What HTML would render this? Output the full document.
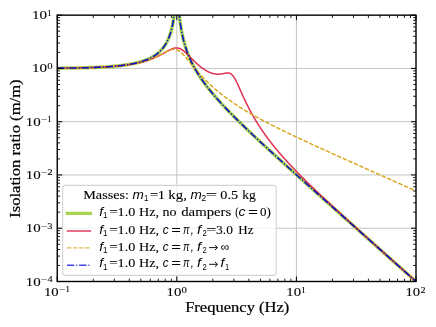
<!DOCTYPE html>
<html><head><meta charset="utf-8"><title>plot</title>
<style>
html,body{margin:0;padding:0;background:#fff;}
svg{display:block;}
text{font-family:"Liberation Serif",serif;fill:#000;stroke:#000;stroke-width:0.1px;}
.i{font-family:"Liberation Sans",sans-serif;font-style:italic;stroke-width:0;}
.s{font-family:"Liberation Sans",sans-serif;stroke-width:0;}
</style></head><body>
<svg width="436" height="327" viewBox="0 0 436 327">
<rect width="436" height="327" fill="#fff"/>
<defs><clipPath id="cp"><rect x="57.25" y="15.15" width="358.75" height="266.35"/></clipPath></defs>

<line x1="176.83" x2="176.83" y1="15.15" y2="281.5" stroke="#c4c4c4" stroke-width="1"/>
<line x1="296.42" x2="296.42" y1="15.15" y2="281.5" stroke="#c4c4c4" stroke-width="1"/>
<line x1="57.25" x2="416.0" y1="68.42" y2="68.42" stroke="#c4c4c4" stroke-width="1"/>
<line x1="57.25" x2="416.0" y1="121.69" y2="121.69" stroke="#c4c4c4" stroke-width="1"/>
<line x1="57.25" x2="416.0" y1="174.96" y2="174.96" stroke="#c4c4c4" stroke-width="1"/>
<line x1="57.25" x2="416.0" y1="228.23" y2="228.23" stroke="#c4c4c4" stroke-width="1"/>
<g clip-path="url(#cp)" fill="none" stroke-linejoin="round">
<path d="M57.25,68.19 L57.49,68.19 L57.73,68.18 L57.97,68.18 L58.21,68.18 L58.45,68.18 L58.69,68.17 L58.93,68.17 L59.16,68.17 L59.40,68.17 L59.64,68.16 L59.88,68.16 L60.12,68.16 L60.36,68.16 L60.60,68.16 L60.84,68.15 L61.08,68.15 L61.32,68.15 L61.56,68.15 L61.80,68.14 L62.04,68.14 L62.28,68.14 L62.52,68.13 L62.75,68.13 L62.99,68.13 L63.23,68.13 L63.47,68.12 L63.71,68.12 L63.95,68.12 L64.19,68.12 L64.43,68.11 L64.67,68.11 L64.91,68.11 L65.15,68.10 L65.39,68.10 L65.63,68.10 L65.87,68.10 L66.11,68.09 L66.34,68.09 L66.58,68.09 L66.82,68.08 L67.06,68.08 L67.30,68.08 L67.54,68.07 L67.78,68.07 L68.02,68.07 L68.26,68.06 L68.50,68.06 L68.74,68.06 L68.98,68.05 L69.22,68.05 L69.46,68.05 L69.69,68.04 L69.93,68.04 L70.17,68.04 L70.41,68.03 L70.65,68.03 L70.89,68.03 L71.13,68.02 L71.37,68.02 L71.61,68.01 L71.85,68.01 L72.09,68.01 L72.33,68.00 L72.57,68.00 L72.81,67.99 L73.05,67.99 L73.28,67.99 L73.52,67.98 L73.76,67.98 L74.00,67.97 L74.24,67.97 L74.48,67.97 L74.72,67.96 L74.96,67.96 L75.20,67.95 L75.44,67.95 L75.68,67.94 L75.92,67.94 L76.16,67.94 L76.40,67.93 L76.64,67.93 L76.87,67.92 L77.11,67.92 L77.35,67.91 L77.59,67.91 L77.83,67.90 L78.07,67.90 L78.31,67.89 L78.55,67.89 L78.79,67.88 L79.03,67.88 L79.27,67.87 L79.51,67.87 L79.75,67.86 L79.99,67.86 L80.23,67.85 L80.46,67.85 L80.70,67.84 L80.94,67.84 L81.18,67.83 L81.42,67.83 L81.66,67.82 L81.90,67.81 L82.14,67.81 L82.38,67.80 L82.62,67.80 L82.86,67.79 L83.10,67.79 L83.34,67.78 L83.58,67.77 L83.82,67.77 L84.05,67.76 L84.29,67.76 L84.53,67.75 L84.77,67.74 L85.01,67.74 L85.25,67.73 L85.49,67.72 L85.73,67.72 L85.97,67.71 L86.21,67.70 L86.45,67.70 L86.69,67.69 L86.93,67.68 L87.17,67.68 L87.41,67.67 L87.64,67.66 L87.88,67.65 L88.12,67.65 L88.36,67.64 L88.60,67.63 L88.84,67.63 L89.08,67.62 L89.32,67.61 L89.56,67.60 L89.80,67.60 L90.04,67.59 L90.28,67.58 L90.52,67.57 L90.76,67.56 L90.99,67.56 L91.23,67.55 L91.47,67.54 L91.71,67.53 L91.95,67.52 L92.19,67.51 L92.43,67.51 L92.67,67.50 L92.91,67.49 L93.15,67.48 L93.39,67.47 L93.63,67.46 L93.87,67.45 L94.11,67.44 L94.35,67.43 L94.58,67.42 L94.82,67.42 L95.06,67.41 L95.30,67.40 L95.54,67.39 L95.78,67.38 L96.02,67.37 L96.26,67.36 L96.50,67.35 L96.74,67.34 L96.98,67.33 L97.22,67.32 L97.46,67.31 L97.70,67.29 L97.94,67.28 L98.17,67.27 L98.41,67.26 L98.65,67.25 L98.89,67.24 L99.13,67.23 L99.37,67.22 L99.61,67.21 L99.85,67.19 L100.09,67.18 L100.33,67.17 L100.57,67.16 L100.81,67.15 L101.05,67.14 L101.29,67.12 L101.53,67.11 L101.76,67.10 L102.00,67.09 L102.24,67.07 L102.48,67.06 L102.72,67.05 L102.96,67.03 L103.20,67.02 L103.44,67.01 L103.68,66.99 L103.92,66.98 L104.16,66.97 L104.40,66.95 L104.64,66.94 L104.88,66.92 L105.12,66.91 L105.35,66.90 L105.59,66.88 L105.83,66.87 L106.07,66.85 L106.31,66.84 L106.55,66.82 L106.79,66.81 L107.03,66.79 L107.27,66.77 L107.51,66.76 L107.75,66.74 L107.99,66.73 L108.23,66.71 L108.47,66.69 L108.71,66.68 L108.94,66.66 L109.18,66.64 L109.42,66.63 L109.66,66.61 L109.90,66.59 L110.14,66.57 L110.38,66.56 L110.62,66.54 L110.86,66.52 L111.10,66.50 L111.34,66.48 L111.58,66.47 L111.82,66.45 L112.06,66.43 L112.30,66.41 L112.53,66.39 L112.77,66.37 L113.01,66.35 L113.25,66.33 L113.49,66.31 L113.73,66.29 L113.97,66.27 L114.21,66.25 L114.45,66.23 L114.69,66.20 L114.93,66.18 L115.17,66.16 L115.41,66.14 L115.65,66.12 L115.88,66.09 L116.12,66.07 L116.36,66.05 L116.60,66.03 L116.84,66.00 L117.08,65.98 L117.32,65.95 L117.56,65.93 L117.80,65.91 L118.04,65.88 L118.28,65.86 L118.52,65.83 L118.76,65.81 L119.00,65.78 L119.24,65.75 L119.47,65.73 L119.71,65.70 L119.95,65.68 L120.19,65.65 L120.43,65.62 L120.67,65.59 L120.91,65.57 L121.15,65.54 L121.39,65.51 L121.63,65.48 L121.87,65.45 L122.11,65.42 L122.35,65.39 L122.59,65.36 L122.83,65.33 L123.06,65.30 L123.30,65.27 L123.54,65.24 L123.78,65.21 L124.02,65.18 L124.26,65.14 L124.50,65.11 L124.74,65.08 L124.98,65.04 L125.22,65.01 L125.46,64.98 L125.70,64.94 L125.94,64.91 L126.18,64.87 L126.42,64.84 L126.65,64.80 L126.89,64.76 L127.13,64.73 L127.37,64.69 L127.61,64.65 L127.85,64.62 L128.09,64.58 L128.33,64.54 L128.57,64.50 L128.81,64.46 L129.05,64.42 L129.29,64.38 L129.53,64.34 L129.77,64.30 L130.01,64.26 L130.24,64.21 L130.48,64.17 L130.72,64.13 L130.96,64.08 L131.20,64.04 L131.44,63.99 L131.68,63.95 L131.92,63.90 L132.16,63.86 L132.40,63.81 L132.64,63.76 L132.88,63.72 L133.12,63.67 L133.36,63.62 L133.60,63.57 L133.83,63.52 L134.07,63.47 L134.31,63.42 L134.55,63.37 L134.79,63.31 L135.03,63.26 L135.27,63.21 L135.51,63.15 L135.75,63.10 L135.99,63.04 L136.23,62.99 L136.47,62.93 L136.71,62.87 L136.95,62.81 L137.18,62.75 L137.42,62.69 L137.66,62.63 L137.90,62.57 L138.14,62.51 L138.38,62.45 L138.62,62.39 L138.86,62.32 L139.10,62.26 L139.34,62.19 L139.58,62.13 L139.82,62.06 L140.06,61.99 L140.30,61.92 L140.54,61.85 L140.77,61.78 L141.01,61.71 L141.25,61.64 L141.49,61.57 L141.73,61.49 L141.97,61.42 L142.21,61.34 L142.45,61.26 L142.69,61.19 L142.93,61.11 L143.17,61.03 L143.41,60.95 L143.65,60.87 L143.89,60.78 L144.13,60.70 L144.36,60.61 L144.60,60.53 L144.84,60.44 L145.08,60.35 L145.32,60.26 L145.56,60.17 L145.80,60.08 L146.04,59.99 L146.28,59.89 L146.52,59.80 L146.76,59.70 L147.00,59.60 L147.24,59.50 L147.48,59.40 L147.72,59.30 L147.95,59.19 L148.19,59.09 L148.43,58.98 L148.67,58.87 L148.91,58.76 L149.15,58.65 L149.39,58.54 L149.63,58.43 L149.87,58.31 L150.11,58.19 L150.35,58.07 L150.59,57.95 L150.83,57.83 L151.07,57.70 L151.31,57.58 L151.54,57.45 L151.78,57.32 L152.02,57.19 L152.26,57.05 L152.50,56.92 L152.74,56.78 L152.98,56.64 L153.22,56.49 L153.46,56.35 L153.70,56.20 L153.94,56.05 L154.18,55.90 L154.42,55.75 L154.66,55.59 L154.90,55.43 L155.13,55.27 L155.37,55.10 L155.61,54.94 L155.85,54.77 L156.09,54.59 L156.33,54.42 L156.57,54.24 L156.81,54.06 L157.05,53.87 L157.29,53.68 L157.53,53.49 L157.77,53.30 L158.01,53.10 L158.25,52.90 L158.48,52.69 L158.72,52.48 L158.96,52.27 L159.20,52.05 L159.44,51.83 L159.68,51.60 L159.92,51.37 L160.16,51.14 L160.40,50.90 L160.64,50.66 L160.88,50.41 L161.12,50.15 L161.36,49.89 L161.60,49.63 L161.84,49.36 L162.07,49.08 L162.31,48.80 L162.55,48.52 L162.79,48.22 L163.03,47.92 L163.27,47.61 L163.51,47.30 L163.75,46.98 L163.99,46.65 L164.23,46.31 L164.47,45.97 L164.71,45.61 L164.95,45.25 L165.19,44.88 L165.43,44.49 L165.66,44.10 L165.90,43.70 L166.14,43.29 L166.38,42.86 L166.62,42.43 L166.86,41.98 L167.10,41.52 L167.34,41.04 L167.58,40.55 L167.82,40.04 L168.06,39.52 L168.30,38.98 L168.54,38.43 L168.78,37.85 L169.02,37.25 L169.25,36.64 L169.49,35.99 L169.73,35.33 L169.97,34.64 L170.21,33.92 L170.45,33.17 L170.69,32.39 L170.93,31.57 L171.17,30.72 L171.41,29.82 L171.65,28.88 L171.89,27.89 L172.13,26.84 L172.37,25.74 L172.61,24.57 L172.84,23.33 L173.08,22.00 L173.32,20.58 L173.56,19.05 L173.80,17.39 L174.04,15.60 L174.28,13.63 L174.52,11.46 L174.76,9.03 L175.00,6.30 L175.24,3.17 L175.48,-0.48 L175.72,-4.87 L175.96,-10.34 L176.20,-17.60 L176.43,-28.37 L176.67,-49.46 L176.91,-60.00 L177.15,-33.21 L177.39,-20.16 L177.63,-11.80 L177.87,-5.62 L178.11,-0.71 L178.35,3.37 L178.59,6.87 L178.83,9.94 L179.07,12.67 L179.31,15.13 L179.55,17.38 L179.79,19.44 L180.02,21.35 L180.26,23.14 L180.50,24.81 L180.74,26.38 L180.98,27.86 L181.22,29.27 L181.46,30.61 L181.70,31.88 L181.94,33.10 L182.18,34.27 L182.42,35.40 L182.66,36.48 L182.90,37.52 L183.14,38.53 L183.37,39.50 L183.61,40.44 L183.85,41.36 L184.09,42.24 L184.33,43.11 L184.57,43.94 L184.81,44.76 L185.05,45.56 L185.29,46.33 L185.53,47.09 L185.77,47.83 L186.01,48.56 L186.25,49.27 L186.49,49.96 L186.73,50.64 L186.96,51.31 L187.20,51.96 L187.44,52.60 L187.68,53.23 L187.92,53.85 L188.16,54.46 L188.40,55.06 L188.64,55.64 L188.88,56.22 L189.12,56.79 L189.36,57.35 L189.60,57.91 L189.84,58.45 L190.08,58.99 L190.32,59.52 L190.55,60.04 L190.79,60.56 L191.03,61.07 L191.27,61.57 L191.51,62.07 L191.75,62.56 L191.99,63.04 L192.23,63.52 L192.47,64.00 L192.71,64.47 L192.95,64.93 L193.19,65.39 L193.43,65.84 L193.67,66.29 L193.91,66.74 L194.14,67.18 L194.38,67.61 L194.62,68.05 L194.86,68.47 L195.10,68.90 L195.34,69.32 L195.58,69.73 L195.82,70.15 L196.06,70.56 L196.30,70.96 L196.54,71.37 L196.78,71.76 L197.02,72.16 L197.26,72.55 L197.50,72.94 L197.73,73.33 L197.97,73.72 L198.21,74.10 L198.45,74.48 L198.69,74.85 L198.93,75.22 L199.17,75.60 L199.41,75.96 L199.65,76.33 L199.89,76.69 L200.13,77.05 L200.37,77.41 L200.61,77.77 L200.85,78.12 L201.09,78.48 L201.32,78.83 L201.56,79.18 L201.80,79.52 L202.04,79.87 L202.28,80.21 L202.52,80.55 L202.76,80.89 L203.00,81.22 L203.24,81.56 L203.48,81.89 L203.72,82.22 L203.96,82.55 L204.20,82.88 L204.44,83.21 L204.67,83.53 L204.91,83.86 L205.15,84.18 L205.39,84.50 L205.63,84.82 L205.87,85.13 L206.11,85.45 L206.35,85.77 L206.59,86.08 L206.83,86.39 L207.07,86.70 L207.31,87.01 L207.55,87.32 L207.79,87.63 L208.03,87.93 L208.26,88.24 L208.50,88.54 L208.74,88.84 L208.98,89.14 L209.22,89.44 L209.46,89.74 L209.70,90.04 L209.94,90.33 L210.18,90.63 L210.42,90.92 L210.66,91.22 L210.90,91.51 L211.14,91.80 L211.38,92.09 L211.62,92.38 L211.85,92.67 L212.09,92.96 L212.33,93.24 L212.57,93.53 L212.81,93.81 L213.05,94.10 L213.29,94.38 L213.53,94.66 L213.77,94.94 L214.01,95.22 L214.25,95.50 L214.49,95.78 L214.73,96.06 L214.97,96.34 L215.21,96.62 L215.44,96.89 L215.68,97.17 L215.92,97.44 L216.16,97.71 L216.40,97.99 L216.64,98.26 L216.88,98.53 L217.12,98.80 L217.36,99.07 L217.60,99.34 L217.84,99.61 L218.08,99.88 L218.32,100.15 L218.56,100.41 L218.80,100.68 L219.03,100.95 L219.27,101.21 L219.51,101.48 L219.75,101.74 L219.99,102.00 L220.23,102.27 L220.47,102.53 L220.71,102.79 L220.95,103.05 L221.19,103.31 L221.43,103.57 L221.67,103.83 L221.91,104.09 L222.15,104.35 L222.39,104.61 L222.62,104.87 L222.86,105.12 L223.10,105.38 L223.34,105.63 L223.58,105.89 L223.82,106.15 L224.06,106.40 L224.30,106.65 L224.54,106.91 L224.78,107.16 L225.02,107.42 L225.26,107.67 L225.50,107.92 L225.74,108.17 L225.97,108.42 L226.21,108.67 L226.45,108.92 L226.69,109.17 L226.93,109.42 L227.17,109.67 L227.41,109.92 L227.65,110.17 L227.89,110.42 L228.13,110.67 L228.37,110.91 L228.61,111.16 L228.85,111.41 L229.09,111.65 L229.33,111.90 L229.56,112.15 L229.80,112.39 L230.04,112.64 L230.28,112.88 L230.52,113.12 L230.76,113.37 L231.00,113.61 L231.24,113.85 L231.48,114.10 L231.72,114.34 L231.96,114.58 L232.20,114.83 L232.44,115.07 L232.68,115.31 L232.92,115.55 L233.15,115.79 L233.39,116.03 L233.63,116.27 L233.87,116.51 L234.11,116.75 L234.35,116.99 L234.59,117.23 L234.83,117.47 L235.07,117.71 L235.31,117.95 L235.55,118.18 L235.79,118.42 L236.03,118.66 L236.27,118.90 L236.51,119.13 L236.74,119.37 L236.98,119.61 L237.22,119.84 L237.46,120.08 L237.70,120.32 L237.94,120.55 L238.18,120.79 L238.42,121.02 L238.66,121.26 L238.90,121.49 L239.14,121.73 L239.38,121.96 L239.62,122.20 L239.86,122.43 L240.10,122.66 L240.33,122.90 L240.57,123.13 L240.81,123.36 L241.05,123.60 L241.29,123.83 L241.53,124.06 L241.77,124.29 L242.01,124.53 L242.25,124.76 L242.49,124.99 L242.73,125.22 L242.97,125.45 L243.21,125.68 L243.45,125.92 L243.69,126.15 L243.92,126.38 L244.16,126.61 L244.40,126.84 L244.64,127.07 L244.88,127.30 L245.12,127.53 L245.36,127.76 L245.60,127.99 L245.84,128.22 L246.08,128.45 L246.32,128.68 L246.56,128.90 L246.80,129.13 L247.04,129.36 L247.28,129.59 L247.51,129.82 L247.75,130.05 L247.99,130.27 L248.23,130.50 L248.47,130.73 L248.71,130.96 L248.95,131.18 L249.19,131.41 L249.43,131.64 L249.67,131.87 L249.91,132.09 L250.15,132.32 L250.39,132.55 L250.63,132.77 L250.86,133.00 L251.10,133.23 L251.34,133.45 L251.58,133.68 L251.82,133.90 L252.06,134.13 L252.30,134.36 L252.54,134.58 L252.78,134.81 L253.02,135.03 L253.26,135.26 L253.50,135.48 L253.74,135.71 L253.98,135.93 L254.22,136.16 L254.45,136.38 L254.69,136.60 L254.93,136.83 L255.17,137.05 L255.41,137.28 L255.65,137.50 L255.89,137.73 L256.13,137.95 L256.37,138.17 L256.61,138.40 L256.85,138.62 L257.09,138.84 L257.33,139.07 L257.57,139.29 L257.81,139.51 L258.04,139.74 L258.28,139.96 L258.52,140.18 L258.76,140.41 L259.00,140.63 L259.24,140.85 L259.48,141.07 L259.72,141.30 L259.96,141.52 L260.20,141.74 L260.44,141.96 L260.68,142.18 L260.92,142.41 L261.16,142.63 L261.40,142.85 L261.63,143.07 L261.87,143.29 L262.11,143.51 L262.35,143.74 L262.59,143.96 L262.83,144.18 L263.07,144.40 L263.31,144.62 L263.55,144.84 L263.79,145.06 L264.03,145.28 L264.27,145.51 L264.51,145.73 L264.75,145.95 L264.99,146.17 L265.22,146.39 L265.46,146.61 L265.70,146.83 L265.94,147.05 L266.18,147.27 L266.42,147.49 L266.66,147.71 L266.90,147.93 L267.14,148.15 L267.38,148.37 L267.62,148.59 L267.86,148.81 L268.10,149.03 L268.34,149.25 L268.58,149.47 L268.81,149.69 L269.05,149.91 L269.29,150.13 L269.53,150.35 L269.77,150.57 L270.01,150.79 L270.25,151.01 L270.49,151.22 L270.73,151.44 L270.97,151.66 L271.21,151.88 L271.45,152.10 L271.69,152.32 L271.93,152.54 L272.16,152.76 L272.40,152.98 L272.64,153.19 L272.88,153.41 L273.12,153.63 L273.36,153.85 L273.60,154.07 L273.84,154.29 L274.08,154.51 L274.32,154.72 L274.56,154.94 L274.80,155.16 L275.04,155.38 L275.28,155.60 L275.52,155.82 L275.75,156.03 L275.99,156.25 L276.23,156.47 L276.47,156.69 L276.71,156.91 L276.95,157.12 L277.19,157.34 L277.43,157.56 L277.67,157.78 L277.91,157.99 L278.15,158.21 L278.39,158.43 L278.63,158.65 L278.87,158.86 L279.11,159.08 L279.34,159.30 L279.58,159.52 L279.82,159.73 L280.06,159.95 L280.30,160.17 L280.54,160.39 L280.78,160.60 L281.02,160.82 L281.26,161.04 L281.50,161.25 L281.74,161.47 L281.98,161.69 L282.22,161.91 L282.46,162.12 L282.70,162.34 L282.93,162.56 L283.17,162.77 L283.41,162.99 L283.65,163.21 L283.89,163.42 L284.13,163.64 L284.37,163.86 L284.61,164.07 L284.85,164.29 L285.09,164.51 L285.33,164.72 L285.57,164.94 L285.81,165.16 L286.05,165.37 L286.29,165.59 L286.52,165.81 L286.76,166.02 L287.00,166.24 L287.24,166.45 L287.48,166.67 L287.72,166.89 L287.96,167.10 L288.20,167.32 L288.44,167.54 L288.68,167.75 L288.92,167.97 L289.16,168.18 L289.40,168.40 L289.64,168.62 L289.88,168.83 L290.11,169.05 L290.35,169.26 L290.59,169.48 L290.83,169.70 L291.07,169.91 L291.31,170.13 L291.55,170.34 L291.79,170.56 L292.03,170.78 L292.27,170.99 L292.51,171.21 L292.75,171.42 L292.99,171.64 L293.23,171.85 L293.46,172.07 L293.70,172.29 L293.94,172.50 L294.18,172.72 L294.42,172.93 L294.66,173.15 L294.90,173.36 L295.14,173.58 L295.38,173.79 L295.62,174.01 L295.86,174.22 L296.10,174.44 L296.34,174.66 L296.58,174.87 L296.82,175.09 L297.05,175.30 L297.29,175.52 L297.53,175.73 L297.77,175.95 L298.01,176.16 L298.25,176.38 L298.49,176.59 L298.73,176.81 L298.97,177.02 L299.21,177.24 L299.45,177.45 L299.69,177.67 L299.93,177.88 L300.17,178.10 L300.41,178.31 L300.64,178.53 L300.88,178.74 L301.12,178.96 L301.36,179.17 L301.60,179.39 L301.84,179.60 L302.08,179.82 L302.32,180.03 L302.56,180.25 L302.80,180.46 L303.04,180.68 L303.28,180.89 L303.52,181.11 L303.76,181.32 L304.00,181.54 L304.23,181.75 L304.47,181.97 L304.71,182.18 L304.95,182.40 L305.19,182.61 L305.43,182.83 L305.67,183.04 L305.91,183.26 L306.15,183.47 L306.39,183.69 L306.63,183.90 L306.87,184.12 L307.11,184.33 L307.35,184.54 L307.59,184.76 L307.82,184.97 L308.06,185.19 L308.30,185.40 L308.54,185.62 L308.78,185.83 L309.02,186.05 L309.26,186.26 L309.50,186.48 L309.74,186.69 L309.98,186.90 L310.22,187.12 L310.46,187.33 L310.70,187.55 L310.94,187.76 L311.18,187.98 L311.41,188.19 L311.65,188.41 L311.89,188.62 L312.13,188.83 L312.37,189.05 L312.61,189.26 L312.85,189.48 L313.09,189.69 L313.33,189.91 L313.57,190.12 L313.81,190.34 L314.05,190.55 L314.29,190.76 L314.53,190.98 L314.77,191.19 L315.00,191.41 L315.24,191.62 L315.48,191.84 L315.72,192.05 L315.96,192.26 L316.20,192.48 L316.44,192.69 L316.68,192.91 L316.92,193.12 L317.16,193.33 L317.40,193.55 L317.64,193.76 L317.88,193.98 L318.12,194.19 L318.35,194.41 L318.59,194.62 L318.83,194.83 L319.07,195.05 L319.31,195.26 L319.55,195.48 L319.79,195.69 L320.03,195.90 L320.27,196.12 L320.51,196.33 L320.75,196.55 L320.99,196.76 L321.23,196.97 L321.47,197.19 L321.71,197.40 L321.94,197.62 L322.18,197.83 L322.42,198.05 L322.66,198.26 L322.90,198.47 L323.14,198.69 L323.38,198.90 L323.62,199.11 L323.86,199.33 L324.10,199.54 L324.34,199.76 L324.58,199.97 L324.82,200.18 L325.06,200.40 L325.30,200.61 L325.53,200.83 L325.77,201.04 L326.01,201.25 L326.25,201.47 L326.49,201.68 L326.73,201.90 L326.97,202.11 L327.21,202.32 L327.45,202.54 L327.69,202.75 L327.93,202.97 L328.17,203.18 L328.41,203.39 L328.65,203.61 L328.89,203.82 L329.12,204.03 L329.36,204.25 L329.60,204.46 L329.84,204.68 L330.08,204.89 L330.32,205.10 L330.56,205.32 L330.80,205.53 L331.04,205.75 L331.28,205.96 L331.52,206.17 L331.76,206.39 L332.00,206.60 L332.24,206.81 L332.48,207.03 L332.71,207.24 L332.95,207.46 L333.19,207.67 L333.43,207.88 L333.67,208.10 L333.91,208.31 L334.15,208.52 L334.39,208.74 L334.63,208.95 L334.87,209.17 L335.11,209.38 L335.35,209.59 L335.59,209.81 L335.83,210.02 L336.07,210.23 L336.30,210.45 L336.54,210.66 L336.78,210.87 L337.02,211.09 L337.26,211.30 L337.50,211.52 L337.74,211.73 L337.98,211.94 L338.22,212.16 L338.46,212.37 L338.70,212.58 L338.94,212.80 L339.18,213.01 L339.42,213.22 L339.65,213.44 L339.89,213.65 L340.13,213.87 L340.37,214.08 L340.61,214.29 L340.85,214.51 L341.09,214.72 L341.33,214.93 L341.57,215.15 L341.81,215.36 L342.05,215.57 L342.29,215.79 L342.53,216.00 L342.77,216.22 L343.01,216.43 L343.24,216.64 L343.48,216.86 L343.72,217.07 L343.96,217.28 L344.20,217.50 L344.44,217.71 L344.68,217.92 L344.92,218.14 L345.16,218.35 L345.40,218.56 L345.64,218.78 L345.88,218.99 L346.12,219.20 L346.36,219.42 L346.60,219.63 L346.83,219.85 L347.07,220.06 L347.31,220.27 L347.55,220.49 L347.79,220.70 L348.03,220.91 L348.27,221.13 L348.51,221.34 L348.75,221.55 L348.99,221.77 L349.23,221.98 L349.47,222.19 L349.71,222.41 L349.95,222.62 L350.19,222.83 L350.42,223.05 L350.66,223.26 L350.90,223.48 L351.14,223.69 L351.38,223.90 L351.62,224.12 L351.86,224.33 L352.10,224.54 L352.34,224.76 L352.58,224.97 L352.82,225.18 L353.06,225.40 L353.30,225.61 L353.54,225.82 L353.78,226.04 L354.01,226.25 L354.25,226.46 L354.49,226.68 L354.73,226.89 L354.97,227.10 L355.21,227.32 L355.45,227.53 L355.69,227.74 L355.93,227.96 L356.17,228.17 L356.41,228.38 L356.65,228.60 L356.89,228.81 L357.13,229.03 L357.37,229.24 L357.60,229.45 L357.84,229.67 L358.08,229.88 L358.32,230.09 L358.56,230.31 L358.80,230.52 L359.04,230.73 L359.28,230.95 L359.52,231.16 L359.76,231.37 L360.00,231.59 L360.24,231.80 L360.48,232.01 L360.72,232.23 L360.95,232.44 L361.19,232.65 L361.43,232.87 L361.67,233.08 L361.91,233.29 L362.15,233.51 L362.39,233.72 L362.63,233.93 L362.87,234.15 L363.11,234.36 L363.35,234.57 L363.59,234.79 L363.83,235.00 L364.07,235.21 L364.31,235.43 L364.54,235.64 L364.78,235.85 L365.02,236.07 L365.26,236.28 L365.50,236.49 L365.74,236.71 L365.98,236.92 L366.22,237.13 L366.46,237.35 L366.70,237.56 L366.94,237.77 L367.18,237.99 L367.42,238.20 L367.66,238.41 L367.90,238.63 L368.13,238.84 L368.37,239.05 L368.61,239.27 L368.85,239.48 L369.09,239.69 L369.33,239.91 L369.57,240.12 L369.81,240.33 L370.05,240.55 L370.29,240.76 L370.53,240.97 L370.77,241.19 L371.01,241.40 L371.25,241.61 L371.49,241.83 L371.72,242.04 L371.96,242.25 L372.20,242.47 L372.44,242.68 L372.68,242.89 L372.92,243.11 L373.16,243.32 L373.40,243.53 L373.64,243.75 L373.88,243.96 L374.12,244.17 L374.36,244.39 L374.60,244.60 L374.84,244.81 L375.08,245.03 L375.31,245.24 L375.55,245.45 L375.79,245.67 L376.03,245.88 L376.27,246.09 L376.51,246.31 L376.75,246.52 L376.99,246.73 L377.23,246.95 L377.47,247.16 L377.71,247.37 L377.95,247.59 L378.19,247.80 L378.43,248.01 L378.67,248.23 L378.90,248.44 L379.14,248.65 L379.38,248.87 L379.62,249.08 L379.86,249.29 L380.10,249.51 L380.34,249.72 L380.58,249.93 L380.82,250.15 L381.06,250.36 L381.30,250.57 L381.54,250.79 L381.78,251.00 L382.02,251.21 L382.26,251.43 L382.49,251.64 L382.73,251.85 L382.97,252.07 L383.21,252.28 L383.45,252.49 L383.69,252.71 L383.93,252.92 L384.17,253.13 L384.41,253.35 L384.65,253.56 L384.89,253.77 L385.13,253.99 L385.37,254.20 L385.61,254.41 L385.84,254.63 L386.08,254.84 L386.32,255.05 L386.56,255.27 L386.80,255.48 L387.04,255.69 L387.28,255.91 L387.52,256.12 L387.76,256.33 L388.00,256.55 L388.24,256.76 L388.48,256.97 L388.72,257.19 L388.96,257.40 L389.20,257.61 L389.43,257.83 L389.67,258.04 L389.91,258.25 L390.15,258.47 L390.39,258.68 L390.63,258.89 L390.87,259.11 L391.11,259.32 L391.35,259.53 L391.59,259.75 L391.83,259.96 L392.07,260.17 L392.31,260.39 L392.55,260.60 L392.79,260.81 L393.02,261.03 L393.26,261.24 L393.50,261.45 L393.74,261.66 L393.98,261.88 L394.22,262.09 L394.46,262.30 L394.70,262.52 L394.94,262.73 L395.18,262.94 L395.42,263.16 L395.66,263.37 L395.90,263.58 L396.14,263.80 L396.38,264.01 L396.61,264.22 L396.85,264.44 L397.09,264.65 L397.33,264.86 L397.57,265.08 L397.81,265.29 L398.05,265.50 L398.29,265.72 L398.53,265.93 L398.77,266.14 L399.01,266.36 L399.25,266.57 L399.49,266.78 L399.73,267.00 L399.97,267.21 L400.20,267.42 L400.44,267.64 L400.68,267.85 L400.92,268.06 L401.16,268.28 L401.40,268.49 L401.64,268.70 L401.88,268.92 L402.12,269.13 L402.36,269.34 L402.60,269.56 L402.84,269.77 L403.08,269.98 L403.32,270.20 L403.56,270.41 L403.79,270.62 L404.03,270.84 L404.27,271.05 L404.51,271.26 L404.75,271.47 L404.99,271.69 L405.23,271.90 L405.47,272.11 L405.71,272.33 L405.95,272.54 L406.19,272.75 L406.43,272.97 L406.67,273.18 L406.91,273.39 L407.14,273.61 L407.38,273.82 L407.62,274.03 L407.86,274.25 L408.10,274.46 L408.34,274.67 L408.58,274.89 L408.82,275.10 L409.06,275.31 L409.30,275.53 L409.54,275.74 L409.78,275.95 L410.02,276.17 L410.26,276.38 L410.50,276.59 L410.73,276.81 L410.97,277.02 L411.21,277.23 L411.45,277.45 L411.69,277.66 L411.93,277.87 L412.17,278.09 L412.41,278.30 L412.65,278.51 L412.89,278.73 L413.13,278.94 L413.37,279.15 L413.61,279.37 L413.85,279.58 L414.09,279.79 L414.32,280.00 L414.56,280.22 L414.80,280.43 L415.04,280.64 L415.28,280.86 L415.52,281.07 L415.76,281.28 L416.00,281.50" stroke="#9acd32" stroke-opacity="0.85" stroke-width="3.5"/>
<path d="M57.25,68.19 L57.49,68.19 L57.73,68.18 L57.97,68.18 L58.21,68.18 L58.45,68.18 L58.69,68.17 L58.93,68.17 L59.16,68.17 L59.40,68.17 L59.64,68.17 L59.88,68.16 L60.12,68.16 L60.36,68.16 L60.60,68.16 L60.84,68.15 L61.08,68.15 L61.32,68.15 L61.56,68.15 L61.80,68.14 L62.04,68.14 L62.28,68.14 L62.52,68.14 L62.75,68.13 L62.99,68.13 L63.23,68.13 L63.47,68.13 L63.71,68.12 L63.95,68.12 L64.19,68.12 L64.43,68.11 L64.67,68.11 L64.91,68.11 L65.15,68.11 L65.39,68.10 L65.63,68.10 L65.87,68.10 L66.11,68.09 L66.34,68.09 L66.58,68.09 L66.82,68.08 L67.06,68.08 L67.30,68.08 L67.54,68.07 L67.78,68.07 L68.02,68.07 L68.26,68.07 L68.50,68.06 L68.74,68.06 L68.98,68.06 L69.22,68.05 L69.46,68.05 L69.69,68.05 L69.93,68.04 L70.17,68.04 L70.41,68.03 L70.65,68.03 L70.89,68.03 L71.13,68.02 L71.37,68.02 L71.61,68.02 L71.85,68.01 L72.09,68.01 L72.33,68.00 L72.57,68.00 L72.81,68.00 L73.05,67.99 L73.28,67.99 L73.52,67.99 L73.76,67.98 L74.00,67.98 L74.24,67.97 L74.48,67.97 L74.72,67.96 L74.96,67.96 L75.20,67.96 L75.44,67.95 L75.68,67.95 L75.92,67.94 L76.16,67.94 L76.40,67.93 L76.64,67.93 L76.87,67.93 L77.11,67.92 L77.35,67.92 L77.59,67.91 L77.83,67.91 L78.07,67.90 L78.31,67.90 L78.55,67.89 L78.79,67.89 L79.03,67.88 L79.27,67.88 L79.51,67.87 L79.75,67.87 L79.99,67.86 L80.23,67.86 L80.46,67.85 L80.70,67.85 L80.94,67.84 L81.18,67.84 L81.42,67.83 L81.66,67.82 L81.90,67.82 L82.14,67.81 L82.38,67.81 L82.62,67.80 L82.86,67.80 L83.10,67.79 L83.34,67.78 L83.58,67.78 L83.82,67.77 L84.05,67.77 L84.29,67.76 L84.53,67.75 L84.77,67.75 L85.01,67.74 L85.25,67.74 L85.49,67.73 L85.73,67.72 L85.97,67.72 L86.21,67.71 L86.45,67.70 L86.69,67.70 L86.93,67.69 L87.17,67.68 L87.41,67.68 L87.64,67.67 L87.88,67.66 L88.12,67.65 L88.36,67.65 L88.60,67.64 L88.84,67.63 L89.08,67.63 L89.32,67.62 L89.56,67.61 L89.80,67.60 L90.04,67.60 L90.28,67.59 L90.52,67.58 L90.76,67.57 L90.99,67.56 L91.23,67.56 L91.47,67.55 L91.71,67.54 L91.95,67.53 L92.19,67.52 L92.43,67.52 L92.67,67.51 L92.91,67.50 L93.15,67.49 L93.39,67.48 L93.63,67.47 L93.87,67.46 L94.11,67.45 L94.35,67.45 L94.58,67.44 L94.82,67.43 L95.06,67.42 L95.30,67.41 L95.54,67.40 L95.78,67.39 L96.02,67.38 L96.26,67.37 L96.50,67.36 L96.74,67.35 L96.98,67.34 L97.22,67.33 L97.46,67.32 L97.70,67.31 L97.94,67.30 L98.17,67.29 L98.41,67.28 L98.65,67.27 L98.89,67.26 L99.13,67.25 L99.37,67.23 L99.61,67.22 L99.85,67.21 L100.09,67.20 L100.33,67.19 L100.57,67.18 L100.81,67.17 L101.05,67.16 L101.29,67.14 L101.53,67.13 L101.76,67.12 L102.00,67.11 L102.24,67.09 L102.48,67.08 L102.72,67.07 L102.96,67.06 L103.20,67.04 L103.44,67.03 L103.68,67.02 L103.92,67.01 L104.16,66.99 L104.40,66.98 L104.64,66.96 L104.88,66.95 L105.12,66.94 L105.35,66.92 L105.59,66.91 L105.83,66.90 L106.07,66.88 L106.31,66.87 L106.55,66.85 L106.79,66.84 L107.03,66.82 L107.27,66.81 L107.51,66.79 L107.75,66.78 L107.99,66.76 L108.23,66.75 L108.47,66.73 L108.71,66.71 L108.94,66.70 L109.18,66.68 L109.42,66.67 L109.66,66.65 L109.90,66.63 L110.14,66.62 L110.38,66.60 L110.62,66.58 L110.86,66.56 L111.10,66.55 L111.34,66.53 L111.58,66.51 L111.82,66.49 L112.06,66.47 L112.30,66.46 L112.53,66.44 L112.77,66.42 L113.01,66.40 L113.25,66.38 L113.49,66.36 L113.73,66.34 L113.97,66.32 L114.21,66.30 L114.45,66.28 L114.69,66.26 L114.93,66.24 L115.17,66.22 L115.41,66.20 L115.65,66.18 L115.88,66.16 L116.12,66.14 L116.36,66.12 L116.60,66.09 L116.84,66.07 L117.08,66.05 L117.32,66.03 L117.56,66.01 L117.80,65.98 L118.04,65.96 L118.28,65.94 L118.52,65.91 L118.76,65.89 L119.00,65.86 L119.24,65.84 L119.47,65.82 L119.71,65.79 L119.95,65.77 L120.19,65.74 L120.43,65.72 L120.67,65.69 L120.91,65.66 L121.15,65.64 L121.39,65.61 L121.63,65.58 L121.87,65.56 L122.11,65.53 L122.35,65.50 L122.59,65.48 L122.83,65.45 L123.06,65.42 L123.30,65.39 L123.54,65.36 L123.78,65.33 L124.02,65.30 L124.26,65.27 L124.50,65.24 L124.74,65.21 L124.98,65.18 L125.22,65.15 L125.46,65.12 L125.70,65.09 L125.94,65.06 L126.18,65.03 L126.42,64.99 L126.65,64.96 L126.89,64.93 L127.13,64.89 L127.37,64.86 L127.61,64.83 L127.85,64.79 L128.09,64.76 L128.33,64.72 L128.57,64.69 L128.81,64.65 L129.05,64.61 L129.29,64.58 L129.53,64.54 L129.77,64.50 L130.01,64.47 L130.24,64.43 L130.48,64.39 L130.72,64.35 L130.96,64.31 L131.20,64.27 L131.44,64.23 L131.68,64.19 L131.92,64.15 L132.16,64.11 L132.40,64.07 L132.64,64.03 L132.88,63.99 L133.12,63.94 L133.36,63.90 L133.60,63.86 L133.83,63.81 L134.07,63.77 L134.31,63.72 L134.55,63.68 L134.79,63.63 L135.03,63.59 L135.27,63.54 L135.51,63.49 L135.75,63.45 L135.99,63.40 L136.23,63.35 L136.47,63.30 L136.71,63.25 L136.95,63.20 L137.18,63.15 L137.42,63.10 L137.66,63.05 L137.90,63.00 L138.14,62.94 L138.38,62.89 L138.62,62.84 L138.86,62.78 L139.10,62.73 L139.34,62.67 L139.58,62.62 L139.82,62.56 L140.06,62.51 L140.30,62.45 L140.54,62.39 L140.77,62.33 L141.01,62.27 L141.25,62.21 L141.49,62.15 L141.73,62.09 L141.97,62.03 L142.21,61.97 L142.45,61.90 L142.69,61.84 L142.93,61.78 L143.17,61.71 L143.41,61.65 L143.65,61.58 L143.89,61.52 L144.13,61.45 L144.36,61.38 L144.60,61.31 L144.84,61.24 L145.08,61.17 L145.32,61.10 L145.56,61.03 L145.80,60.96 L146.04,60.89 L146.28,60.81 L146.52,60.74 L146.76,60.66 L147.00,60.59 L147.24,60.51 L147.48,60.43 L147.72,60.36 L147.95,60.28 L148.19,60.20 L148.43,60.12 L148.67,60.04 L148.91,59.95 L149.15,59.87 L149.39,59.79 L149.63,59.70 L149.87,59.62 L150.11,59.53 L150.35,59.45 L150.59,59.36 L150.83,59.27 L151.07,59.18 L151.31,59.09 L151.54,59.00 L151.78,58.91 L152.02,58.82 L152.26,58.72 L152.50,58.63 L152.74,58.53 L152.98,58.44 L153.22,58.34 L153.46,58.24 L153.70,58.14 L153.94,58.04 L154.18,57.94 L154.42,57.84 L154.66,57.74 L154.90,57.63 L155.13,57.53 L155.37,57.42 L155.61,57.32 L155.85,57.21 L156.09,57.10 L156.33,56.99 L156.57,56.88 L156.81,56.77 L157.05,56.66 L157.29,56.55 L157.53,56.43 L157.77,56.32 L158.01,56.20 L158.25,56.09 L158.48,55.97 L158.72,55.85 L158.96,55.73 L159.20,55.61 L159.44,55.49 L159.68,55.37 L159.92,55.25 L160.16,55.13 L160.40,55.00 L160.64,54.88 L160.88,54.75 L161.12,54.62 L161.36,54.50 L161.60,54.37 L161.84,54.24 L162.07,54.11 L162.31,53.98 L162.55,53.85 L162.79,53.72 L163.03,53.59 L163.27,53.46 L163.51,53.32 L163.75,53.19 L163.99,53.06 L164.23,52.92 L164.47,52.79 L164.71,52.65 L164.95,52.52 L165.19,52.38 L165.43,52.25 L165.66,52.11 L165.90,51.98 L166.14,51.85 L166.38,51.71 L166.62,51.58 L166.86,51.44 L167.10,51.31 L167.34,51.18 L167.58,51.04 L167.82,50.91 L168.06,50.78 L168.30,50.65 L168.54,50.53 L168.78,50.40 L169.02,50.27 L169.25,50.15 L169.49,50.03 L169.73,49.90 L169.97,49.79 L170.21,49.67 L170.45,49.55 L170.69,49.44 L170.93,49.33 L171.17,49.22 L171.41,49.12 L171.65,49.02 L171.89,48.92 L172.13,48.82 L172.37,48.73 L172.61,48.64 L172.84,48.56 L173.08,48.48 L173.32,48.41 L173.56,48.34 L173.80,48.27 L174.04,48.21 L174.28,48.15 L174.52,48.10 L174.76,48.05 L175.00,48.01 L175.24,47.98 L175.48,47.95 L175.72,47.93 L175.96,47.91 L176.20,47.90 L176.43,47.90 L176.67,47.90 L176.91,47.91 L177.15,47.93 L177.39,47.95 L177.63,47.98 L177.87,48.02 L178.11,48.06 L178.35,48.11 L178.59,48.17 L178.83,48.23 L179.07,48.31 L179.31,48.38 L179.55,48.47 L179.79,48.56 L180.02,48.66 L180.26,48.77 L180.50,48.88 L180.74,49.00 L180.98,49.13 L181.22,49.26 L181.46,49.40 L181.70,49.54 L181.94,49.69 L182.18,49.85 L182.42,50.01 L182.66,50.18 L182.90,50.35 L183.14,50.52 L183.37,50.71 L183.61,50.89 L183.85,51.08 L184.09,51.28 L184.33,51.48 L184.57,51.68 L184.81,51.89 L185.05,52.10 L185.29,52.31 L185.53,52.53 L185.77,52.75 L186.01,52.97 L186.25,53.20 L186.49,53.42 L186.73,53.65 L186.96,53.88 L187.20,54.12 L187.44,54.35 L187.68,54.59 L187.92,54.82 L188.16,55.06 L188.40,55.30 L188.64,55.54 L188.88,55.79 L189.12,56.03 L189.36,56.27 L189.60,56.51 L189.84,56.76 L190.08,57.00 L190.32,57.24 L190.55,57.49 L190.79,57.73 L191.03,57.98 L191.27,58.22 L191.51,58.46 L191.75,58.70 L191.99,58.95 L192.23,59.19 L192.47,59.43 L192.71,59.67 L192.95,59.90 L193.19,60.14 L193.43,60.38 L193.67,60.61 L193.91,60.85 L194.14,61.08 L194.38,61.31 L194.62,61.55 L194.86,61.78 L195.10,62.00 L195.34,62.23 L195.58,62.46 L195.82,62.68 L196.06,62.90 L196.30,63.12 L196.54,63.34 L196.78,63.56 L197.02,63.78 L197.26,63.99 L197.50,64.21 L197.73,64.42 L197.97,64.63 L198.21,64.84 L198.45,65.04 L198.69,65.25 L198.93,65.45 L199.17,65.65 L199.41,65.85 L199.65,66.04 L199.89,66.24 L200.13,66.43 L200.37,66.62 L200.61,66.81 L200.85,67.00 L201.09,67.18 L201.32,67.37 L201.56,67.55 L201.80,67.73 L202.04,67.90 L202.28,68.08 L202.52,68.25 L202.76,68.42 L203.00,68.59 L203.24,68.76 L203.48,68.92 L203.72,69.08 L203.96,69.24 L204.20,69.40 L204.44,69.56 L204.67,69.71 L204.91,69.86 L205.15,70.01 L205.39,70.15 L205.63,70.30 L205.87,70.44 L206.11,70.58 L206.35,70.72 L206.59,70.85 L206.83,70.98 L207.07,71.11 L207.31,71.24 L207.55,71.36 L207.79,71.49 L208.03,71.61 L208.26,71.73 L208.50,71.84 L208.74,71.95 L208.98,72.06 L209.22,72.17 L209.46,72.28 L209.70,72.38 L209.94,72.48 L210.18,72.58 L210.42,72.67 L210.66,72.76 L210.90,72.85 L211.14,72.94 L211.38,73.02 L211.62,73.10 L211.85,73.18 L212.09,73.26 L212.33,73.33 L212.57,73.40 L212.81,73.47 L213.05,73.53 L213.29,73.60 L213.53,73.65 L213.77,73.71 L214.01,73.76 L214.25,73.81 L214.49,73.86 L214.73,73.91 L214.97,73.95 L215.21,73.99 L215.44,74.02 L215.68,74.05 L215.92,74.08 L216.16,74.11 L216.40,74.14 L216.64,74.16 L216.88,74.17 L217.12,74.19 L217.36,74.20 L217.60,74.21 L217.84,74.22 L218.08,74.22 L218.32,74.22 L218.56,74.22 L218.80,74.21 L219.03,74.20 L219.27,74.19 L219.51,74.18 L219.75,74.16 L219.99,74.14 L220.23,74.12 L220.47,74.09 L220.71,74.06 L220.95,74.03 L221.19,74.00 L221.43,73.96 L221.67,73.93 L221.91,73.89 L222.15,73.85 L222.39,73.80 L222.62,73.76 L222.86,73.71 L223.10,73.67 L223.34,73.62 L223.58,73.57 L223.82,73.52 L224.06,73.47 L224.30,73.42 L224.54,73.37 L224.78,73.32 L225.02,73.27 L225.26,73.23 L225.50,73.18 L225.74,73.14 L225.97,73.10 L226.21,73.06 L226.45,73.03 L226.69,73.00 L226.93,72.97 L227.17,72.95 L227.41,72.94 L227.65,72.94 L227.89,72.94 L228.13,72.94 L228.37,72.96 L228.61,72.99 L228.85,73.03 L229.09,73.07 L229.33,73.13 L229.56,73.20 L229.80,73.29 L230.04,73.38 L230.28,73.49 L230.52,73.62 L230.76,73.76 L231.00,73.92 L231.24,74.09 L231.48,74.28 L231.72,74.48 L231.96,74.70 L232.20,74.94 L232.44,75.19 L232.68,75.46 L232.92,75.75 L233.15,76.06 L233.39,76.38 L233.63,76.71 L233.87,77.06 L234.11,77.43 L234.35,77.81 L234.59,78.20 L234.83,78.61 L235.07,79.03 L235.31,79.46 L235.55,79.91 L235.79,80.36 L236.03,80.82 L236.27,81.30 L236.51,81.78 L236.74,82.27 L236.98,82.76 L237.22,83.26 L237.46,83.77 L237.70,84.28 L237.94,84.80 L238.18,85.32 L238.42,85.85 L238.66,86.38 L238.90,86.91 L239.14,87.44 L239.38,87.98 L239.62,88.51 L239.86,89.05 L240.10,89.59 L240.33,90.13 L240.57,90.66 L240.81,91.20 L241.05,91.74 L241.29,92.28 L241.53,92.81 L241.77,93.35 L242.01,93.88 L242.25,94.41 L242.49,94.94 L242.73,95.47 L242.97,96.00 L243.21,96.52 L243.45,97.04 L243.69,97.56 L243.92,98.08 L244.16,98.59 L244.40,99.11 L244.64,99.62 L244.88,100.13 L245.12,100.63 L245.36,101.13 L245.60,101.63 L245.84,102.13 L246.08,102.63 L246.32,103.12 L246.56,103.61 L246.80,104.10 L247.04,104.58 L247.28,105.06 L247.51,105.54 L247.75,106.02 L247.99,106.49 L248.23,106.96 L248.47,107.43 L248.71,107.90 L248.95,108.36 L249.19,108.82 L249.43,109.28 L249.67,109.73 L249.91,110.19 L250.15,110.64 L250.39,111.08 L250.63,111.53 L250.86,111.97 L251.10,112.41 L251.34,112.85 L251.58,113.29 L251.82,113.72 L252.06,114.15 L252.30,114.58 L252.54,115.01 L252.78,115.43 L253.02,115.85 L253.26,116.27 L253.50,116.69 L253.74,117.10 L253.98,117.52 L254.22,117.93 L254.45,118.33 L254.69,118.74 L254.93,119.14 L255.17,119.55 L255.41,119.95 L255.65,120.35 L255.89,120.74 L256.13,121.14 L256.37,121.53 L256.61,121.92 L256.85,122.31 L257.09,122.69 L257.33,123.08 L257.57,123.46 L257.81,123.84 L258.04,124.22 L258.28,124.60 L258.52,124.98 L258.76,125.35 L259.00,125.72 L259.24,126.09 L259.48,126.46 L259.72,126.83 L259.96,127.20 L260.20,127.56 L260.44,127.92 L260.68,128.28 L260.92,128.64 L261.16,129.00 L261.40,129.36 L261.63,129.71 L261.87,130.07 L262.11,130.42 L262.35,130.77 L262.59,131.12 L262.83,131.47 L263.07,131.81 L263.31,132.16 L263.55,132.50 L263.79,132.84 L264.03,133.18 L264.27,133.52 L264.51,133.86 L264.75,134.20 L264.99,134.53 L265.22,134.87 L265.46,135.20 L265.70,135.53 L265.94,135.86 L266.18,136.19 L266.42,136.52 L266.66,136.85 L266.90,137.17 L267.14,137.50 L267.38,137.82 L267.62,138.15 L267.86,138.47 L268.10,138.79 L268.34,139.11 L268.58,139.42 L268.81,139.74 L269.05,140.06 L269.29,140.37 L269.53,140.69 L269.77,141.00 L270.01,141.31 L270.25,141.62 L270.49,141.93 L270.73,142.24 L270.97,142.55 L271.21,142.86 L271.45,143.16 L271.69,143.47 L271.93,143.77 L272.16,144.07 L272.40,144.38 L272.64,144.68 L272.88,144.98 L273.12,145.28 L273.36,145.58 L273.60,145.88 L273.84,146.17 L274.08,146.47 L274.32,146.76 L274.56,147.06 L274.80,147.35 L275.04,147.65 L275.28,147.94 L275.52,148.23 L275.75,148.52 L275.99,148.81 L276.23,149.10 L276.47,149.39 L276.71,149.68 L276.95,149.96 L277.19,150.25 L277.43,150.54 L277.67,150.82 L277.91,151.10 L278.15,151.39 L278.39,151.67 L278.63,151.95 L278.87,152.23 L279.11,152.51 L279.34,152.79 L279.58,153.07 L279.82,153.35 L280.06,153.63 L280.30,153.91 L280.54,154.18 L280.78,154.46 L281.02,154.74 L281.26,155.01 L281.50,155.29 L281.74,155.56 L281.98,155.83 L282.22,156.11 L282.46,156.38 L282.70,156.65 L282.93,156.92 L283.17,157.19 L283.41,157.46 L283.65,157.73 L283.89,158.00 L284.13,158.27 L284.37,158.53 L284.61,158.80 L284.85,159.07 L285.09,159.33 L285.33,159.60 L285.57,159.86 L285.81,160.13 L286.05,160.39 L286.29,160.66 L286.52,160.92 L286.76,161.18 L287.00,161.44 L287.24,161.70 L287.48,161.97 L287.72,162.23 L287.96,162.49 L288.20,162.75 L288.44,163.01 L288.68,163.26 L288.92,163.52 L289.16,163.78 L289.40,164.04 L289.64,164.30 L289.88,164.55 L290.11,164.81 L290.35,165.06 L290.59,165.32 L290.83,165.57 L291.07,165.83 L291.31,166.08 L291.55,166.34 L291.79,166.59 L292.03,166.84 L292.27,167.10 L292.51,167.35 L292.75,167.60 L292.99,167.85 L293.23,168.10 L293.46,168.35 L293.70,168.60 L293.94,168.85 L294.18,169.10 L294.42,169.35 L294.66,169.60 L294.90,169.85 L295.14,170.10 L295.38,170.35 L295.62,170.60 L295.86,170.84 L296.10,171.09 L296.34,171.34 L296.58,171.58 L296.82,171.83 L297.05,172.08 L297.29,172.32 L297.53,172.57 L297.77,172.81 L298.01,173.06 L298.25,173.30 L298.49,173.54 L298.73,173.79 L298.97,174.03 L299.21,174.27 L299.45,174.52 L299.69,174.76 L299.93,175.00 L300.17,175.24 L300.41,175.49 L300.64,175.73 L300.88,175.97 L301.12,176.21 L301.36,176.45 L301.60,176.69 L301.84,176.93 L302.08,177.17 L302.32,177.41 L302.56,177.65 L302.80,177.89 L303.04,178.13 L303.28,178.37 L303.52,178.60 L303.76,178.84 L304.00,179.08 L304.23,179.32 L304.47,179.56 L304.71,179.79 L304.95,180.03 L305.19,180.27 L305.43,180.50 L305.67,180.74 L305.91,180.98 L306.15,181.21 L306.39,181.45 L306.63,181.68 L306.87,181.92 L307.11,182.15 L307.35,182.39 L307.59,182.62 L307.82,182.86 L308.06,183.09 L308.30,183.33 L308.54,183.56 L308.78,183.79 L309.02,184.03 L309.26,184.26 L309.50,184.49 L309.74,184.73 L309.98,184.96 L310.22,185.19 L310.46,185.42 L310.70,185.66 L310.94,185.89 L311.18,186.12 L311.41,186.35 L311.65,186.58 L311.89,186.81 L312.13,187.05 L312.37,187.28 L312.61,187.51 L312.85,187.74 L313.09,187.97 L313.33,188.20 L313.57,188.43 L313.81,188.66 L314.05,188.89 L314.29,189.12 L314.53,189.35 L314.77,189.58 L315.00,189.81 L315.24,190.04 L315.48,190.27 L315.72,190.49 L315.96,190.72 L316.20,190.95 L316.44,191.18 L316.68,191.41 L316.92,191.64 L317.16,191.86 L317.40,192.09 L317.64,192.32 L317.88,192.55 L318.12,192.77 L318.35,193.00 L318.59,193.23 L318.83,193.46 L319.07,193.68 L319.31,193.91 L319.55,194.14 L319.79,194.36 L320.03,194.59 L320.27,194.81 L320.51,195.04 L320.75,195.27 L320.99,195.49 L321.23,195.72 L321.47,195.94 L321.71,196.17 L321.94,196.40 L322.18,196.62 L322.42,196.85 L322.66,197.07 L322.90,197.30 L323.14,197.52 L323.38,197.75 L323.62,197.97 L323.86,198.19 L324.10,198.42 L324.34,198.64 L324.58,198.87 L324.82,199.09 L325.06,199.32 L325.30,199.54 L325.53,199.76 L325.77,199.99 L326.01,200.21 L326.25,200.43 L326.49,200.66 L326.73,200.88 L326.97,201.10 L327.21,201.33 L327.45,201.55 L327.69,201.77 L327.93,202.00 L328.17,202.22 L328.41,202.44 L328.65,202.66 L328.89,202.89 L329.12,203.11 L329.36,203.33 L329.60,203.55 L329.84,203.78 L330.08,204.00 L330.32,204.22 L330.56,204.44 L330.80,204.66 L331.04,204.89 L331.28,205.11 L331.52,205.33 L331.76,205.55 L332.00,205.77 L332.24,205.99 L332.48,206.22 L332.71,206.44 L332.95,206.66 L333.19,206.88 L333.43,207.10 L333.67,207.32 L333.91,207.54 L334.15,207.76 L334.39,207.98 L334.63,208.20 L334.87,208.42 L335.11,208.65 L335.35,208.87 L335.59,209.09 L335.83,209.31 L336.07,209.53 L336.30,209.75 L336.54,209.97 L336.78,210.19 L337.02,210.41 L337.26,210.63 L337.50,210.85 L337.74,211.07 L337.98,211.29 L338.22,211.51 L338.46,211.73 L338.70,211.95 L338.94,212.16 L339.18,212.38 L339.42,212.60 L339.65,212.82 L339.89,213.04 L340.13,213.26 L340.37,213.48 L340.61,213.70 L340.85,213.92 L341.09,214.14 L341.33,214.36 L341.57,214.58 L341.81,214.79 L342.05,215.01 L342.29,215.23 L342.53,215.45 L342.77,215.67 L343.01,215.89 L343.24,216.11 L343.48,216.33 L343.72,216.54 L343.96,216.76 L344.20,216.98 L344.44,217.20 L344.68,217.42 L344.92,217.64 L345.16,217.85 L345.40,218.07 L345.64,218.29 L345.88,218.51 L346.12,218.73 L346.36,218.94 L346.60,219.16 L346.83,219.38 L347.07,219.60 L347.31,219.82 L347.55,220.03 L347.79,220.25 L348.03,220.47 L348.27,220.69 L348.51,220.90 L348.75,221.12 L348.99,221.34 L349.23,221.56 L349.47,221.77 L349.71,221.99 L349.95,222.21 L350.19,222.43 L350.42,222.64 L350.66,222.86 L350.90,223.08 L351.14,223.29 L351.38,223.51 L351.62,223.73 L351.86,223.95 L352.10,224.16 L352.34,224.38 L352.58,224.60 L352.82,224.81 L353.06,225.03 L353.30,225.25 L353.54,225.46 L353.78,225.68 L354.01,225.90 L354.25,226.11 L354.49,226.33 L354.73,226.55 L354.97,226.76 L355.21,226.98 L355.45,227.20 L355.69,227.41 L355.93,227.63 L356.17,227.85 L356.41,228.06 L356.65,228.28 L356.89,228.50 L357.13,228.71 L357.37,228.93 L357.60,229.14 L357.84,229.36 L358.08,229.58 L358.32,229.79 L358.56,230.01 L358.80,230.23 L359.04,230.44 L359.28,230.66 L359.52,230.87 L359.76,231.09 L360.00,231.31 L360.24,231.52 L360.48,231.74 L360.72,231.95 L360.95,232.17 L361.19,232.39 L361.43,232.60 L361.67,232.82 L361.91,233.03 L362.15,233.25 L362.39,233.46 L362.63,233.68 L362.87,233.90 L363.11,234.11 L363.35,234.33 L363.59,234.54 L363.83,234.76 L364.07,234.97 L364.31,235.19 L364.54,235.41 L364.78,235.62 L365.02,235.84 L365.26,236.05 L365.50,236.27 L365.74,236.48 L365.98,236.70 L366.22,236.91 L366.46,237.13 L366.70,237.34 L366.94,237.56 L367.18,237.77 L367.42,237.99 L367.66,238.21 L367.90,238.42 L368.13,238.64 L368.37,238.85 L368.61,239.07 L368.85,239.28 L369.09,239.50 L369.33,239.71 L369.57,239.93 L369.81,240.14 L370.05,240.36 L370.29,240.57 L370.53,240.79 L370.77,241.00 L371.01,241.22 L371.25,241.43 L371.49,241.65 L371.72,241.86 L371.96,242.08 L372.20,242.29 L372.44,242.51 L372.68,242.72 L372.92,242.94 L373.16,243.15 L373.40,243.37 L373.64,243.58 L373.88,243.80 L374.12,244.01 L374.36,244.23 L374.60,244.44 L374.84,244.66 L375.08,244.87 L375.31,245.09 L375.55,245.30 L375.79,245.52 L376.03,245.73 L376.27,245.94 L376.51,246.16 L376.75,246.37 L376.99,246.59 L377.23,246.80 L377.47,247.02 L377.71,247.23 L377.95,247.45 L378.19,247.66 L378.43,247.88 L378.67,248.09 L378.90,248.31 L379.14,248.52 L379.38,248.73 L379.62,248.95 L379.86,249.16 L380.10,249.38 L380.34,249.59 L380.58,249.81 L380.82,250.02 L381.06,250.24 L381.30,250.45 L381.54,250.67 L381.78,250.88 L382.02,251.09 L382.26,251.31 L382.49,251.52 L382.73,251.74 L382.97,251.95 L383.21,252.17 L383.45,252.38 L383.69,252.59 L383.93,252.81 L384.17,253.02 L384.41,253.24 L384.65,253.45 L384.89,253.67 L385.13,253.88 L385.37,254.09 L385.61,254.31 L385.84,254.52 L386.08,254.74 L386.32,254.95 L386.56,255.17 L386.80,255.38 L387.04,255.59 L387.28,255.81 L387.52,256.02 L387.76,256.24 L388.00,256.45 L388.24,256.67 L388.48,256.88 L388.72,257.09 L388.96,257.31 L389.20,257.52 L389.43,257.74 L389.67,257.95 L389.91,258.16 L390.15,258.38 L390.39,258.59 L390.63,258.81 L390.87,259.02 L391.11,259.23 L391.35,259.45 L391.59,259.66 L391.83,259.88 L392.07,260.09 L392.31,260.30 L392.55,260.52 L392.79,260.73 L393.02,260.95 L393.26,261.16 L393.50,261.37 L393.74,261.59 L393.98,261.80 L394.22,262.02 L394.46,262.23 L394.70,262.44 L394.94,262.66 L395.18,262.87 L395.42,263.09 L395.66,263.30 L395.90,263.51 L396.14,263.73 L396.38,263.94 L396.61,264.16 L396.85,264.37 L397.09,264.58 L397.33,264.80 L397.57,265.01 L397.81,265.23 L398.05,265.44 L398.29,265.65 L398.53,265.87 L398.77,266.08 L399.01,266.29 L399.25,266.51 L399.49,266.72 L399.73,266.94 L399.97,267.15 L400.20,267.36 L400.44,267.58 L400.68,267.79 L400.92,268.00 L401.16,268.22 L401.40,268.43 L401.64,268.65 L401.88,268.86 L402.12,269.07 L402.36,269.29 L402.60,269.50 L402.84,269.72 L403.08,269.93 L403.32,270.14 L403.56,270.36 L403.79,270.57 L404.03,270.78 L404.27,271.00 L404.51,271.21 L404.75,271.43 L404.99,271.64 L405.23,271.85 L405.47,272.07 L405.71,272.28 L405.95,272.49 L406.19,272.71 L406.43,272.92 L406.67,273.13 L406.91,273.35 L407.14,273.56 L407.38,273.78 L407.62,273.99 L407.86,274.20 L408.10,274.42 L408.34,274.63 L408.58,274.84 L408.82,275.06 L409.06,275.27 L409.30,275.48 L409.54,275.70 L409.78,275.91 L410.02,276.13 L410.26,276.34 L410.50,276.55 L410.73,276.77 L410.97,276.98 L411.21,277.19 L411.45,277.41 L411.69,277.62 L411.93,277.83 L412.17,278.05 L412.41,278.26 L412.65,278.48 L412.89,278.69 L413.13,278.90 L413.37,279.12 L413.61,279.33 L413.85,279.54 L414.09,279.76 L414.32,279.97 L414.56,280.18 L414.80,280.40 L415.04,280.61 L415.28,280.82 L415.52,281.04 L415.76,281.25 L416.00,281.47" stroke="#dc143c" stroke-opacity="0.88" stroke-width="1.5"/>
<path d="M57.25,68.19 L57.49,68.19 L57.73,68.18 L57.97,68.18 L58.21,68.18 L58.45,68.18 L58.69,68.17 L58.93,68.17 L59.16,68.17 L59.40,68.17 L59.64,68.17 L59.88,68.16 L60.12,68.16 L60.36,68.16 L60.60,68.16 L60.84,68.15 L61.08,68.15 L61.32,68.15 L61.56,68.15 L61.80,68.14 L62.04,68.14 L62.28,68.14 L62.52,68.14 L62.75,68.13 L62.99,68.13 L63.23,68.13 L63.47,68.13 L63.71,68.12 L63.95,68.12 L64.19,68.12 L64.43,68.11 L64.67,68.11 L64.91,68.11 L65.15,68.11 L65.39,68.10 L65.63,68.10 L65.87,68.10 L66.11,68.09 L66.34,68.09 L66.58,68.09 L66.82,68.08 L67.06,68.08 L67.30,68.08 L67.54,68.07 L67.78,68.07 L68.02,68.07 L68.26,68.07 L68.50,68.06 L68.74,68.06 L68.98,68.06 L69.22,68.05 L69.46,68.05 L69.69,68.04 L69.93,68.04 L70.17,68.04 L70.41,68.03 L70.65,68.03 L70.89,68.03 L71.13,68.02 L71.37,68.02 L71.61,68.02 L71.85,68.01 L72.09,68.01 L72.33,68.00 L72.57,68.00 L72.81,68.00 L73.05,67.99 L73.28,67.99 L73.52,67.99 L73.76,67.98 L74.00,67.98 L74.24,67.97 L74.48,67.97 L74.72,67.96 L74.96,67.96 L75.20,67.96 L75.44,67.95 L75.68,67.95 L75.92,67.94 L76.16,67.94 L76.40,67.93 L76.64,67.93 L76.87,67.92 L77.11,67.92 L77.35,67.92 L77.59,67.91 L77.83,67.91 L78.07,67.90 L78.31,67.90 L78.55,67.89 L78.79,67.89 L79.03,67.88 L79.27,67.88 L79.51,67.87 L79.75,67.87 L79.99,67.86 L80.23,67.86 L80.46,67.85 L80.70,67.85 L80.94,67.84 L81.18,67.83 L81.42,67.83 L81.66,67.82 L81.90,67.82 L82.14,67.81 L82.38,67.81 L82.62,67.80 L82.86,67.80 L83.10,67.79 L83.34,67.78 L83.58,67.78 L83.82,67.77 L84.05,67.77 L84.29,67.76 L84.53,67.75 L84.77,67.75 L85.01,67.74 L85.25,67.73 L85.49,67.73 L85.73,67.72 L85.97,67.72 L86.21,67.71 L86.45,67.70 L86.69,67.70 L86.93,67.69 L87.17,67.68 L87.41,67.68 L87.64,67.67 L87.88,67.66 L88.12,67.65 L88.36,67.65 L88.60,67.64 L88.84,67.63 L89.08,67.63 L89.32,67.62 L89.56,67.61 L89.80,67.60 L90.04,67.59 L90.28,67.59 L90.52,67.58 L90.76,67.57 L90.99,67.56 L91.23,67.56 L91.47,67.55 L91.71,67.54 L91.95,67.53 L92.19,67.52 L92.43,67.51 L92.67,67.51 L92.91,67.50 L93.15,67.49 L93.39,67.48 L93.63,67.47 L93.87,67.46 L94.11,67.45 L94.35,67.44 L94.58,67.44 L94.82,67.43 L95.06,67.42 L95.30,67.41 L95.54,67.40 L95.78,67.39 L96.02,67.38 L96.26,67.37 L96.50,67.36 L96.74,67.35 L96.98,67.34 L97.22,67.33 L97.46,67.32 L97.70,67.31 L97.94,67.30 L98.17,67.29 L98.41,67.28 L98.65,67.27 L98.89,67.26 L99.13,67.24 L99.37,67.23 L99.61,67.22 L99.85,67.21 L100.09,67.20 L100.33,67.19 L100.57,67.18 L100.81,67.17 L101.05,67.15 L101.29,67.14 L101.53,67.13 L101.76,67.12 L102.00,67.11 L102.24,67.09 L102.48,67.08 L102.72,67.07 L102.96,67.06 L103.20,67.04 L103.44,67.03 L103.68,67.02 L103.92,67.00 L104.16,66.99 L104.40,66.98 L104.64,66.96 L104.88,66.95 L105.12,66.94 L105.35,66.92 L105.59,66.91 L105.83,66.89 L106.07,66.88 L106.31,66.86 L106.55,66.85 L106.79,66.83 L107.03,66.82 L107.27,66.80 L107.51,66.79 L107.75,66.77 L107.99,66.76 L108.23,66.74 L108.47,66.73 L108.71,66.71 L108.94,66.70 L109.18,66.68 L109.42,66.66 L109.66,66.65 L109.90,66.63 L110.14,66.61 L110.38,66.60 L110.62,66.58 L110.86,66.56 L111.10,66.54 L111.34,66.53 L111.58,66.51 L111.82,66.49 L112.06,66.47 L112.30,66.45 L112.53,66.43 L112.77,66.42 L113.01,66.40 L113.25,66.38 L113.49,66.36 L113.73,66.34 L113.97,66.32 L114.21,66.30 L114.45,66.28 L114.69,66.26 L114.93,66.24 L115.17,66.22 L115.41,66.20 L115.65,66.18 L115.88,66.15 L116.12,66.13 L116.36,66.11 L116.60,66.09 L116.84,66.07 L117.08,66.04 L117.32,66.02 L117.56,66.00 L117.80,65.98 L118.04,65.95 L118.28,65.93 L118.52,65.91 L118.76,65.88 L119.00,65.86 L119.24,65.83 L119.47,65.81 L119.71,65.78 L119.95,65.76 L120.19,65.73 L120.43,65.71 L120.67,65.68 L120.91,65.66 L121.15,65.63 L121.39,65.60 L121.63,65.58 L121.87,65.55 L122.11,65.52 L122.35,65.49 L122.59,65.47 L122.83,65.44 L123.06,65.41 L123.30,65.38 L123.54,65.35 L123.78,65.32 L124.02,65.29 L124.26,65.26 L124.50,65.23 L124.74,65.20 L124.98,65.17 L125.22,65.14 L125.46,65.11 L125.70,65.08 L125.94,65.05 L126.18,65.01 L126.42,64.98 L126.65,64.95 L126.89,64.92 L127.13,64.88 L127.37,64.85 L127.61,64.81 L127.85,64.78 L128.09,64.74 L128.33,64.71 L128.57,64.67 L128.81,64.64 L129.05,64.60 L129.29,64.56 L129.53,64.53 L129.77,64.49 L130.01,64.45 L130.24,64.41 L130.48,64.38 L130.72,64.34 L130.96,64.30 L131.20,64.26 L131.44,64.22 L131.68,64.18 L131.92,64.14 L132.16,64.09 L132.40,64.05 L132.64,64.01 L132.88,63.97 L133.12,63.92 L133.36,63.88 L133.60,63.84 L133.83,63.79 L134.07,63.75 L134.31,63.70 L134.55,63.66 L134.79,63.61 L135.03,63.57 L135.27,63.52 L135.51,63.47 L135.75,63.42 L135.99,63.37 L136.23,63.33 L136.47,63.28 L136.71,63.23 L136.95,63.18 L137.18,63.12 L137.42,63.07 L137.66,63.02 L137.90,62.97 L138.14,62.92 L138.38,62.86 L138.62,62.81 L138.86,62.75 L139.10,62.70 L139.34,62.64 L139.58,62.59 L139.82,62.53 L140.06,62.47 L140.30,62.41 L140.54,62.36 L140.77,62.30 L141.01,62.24 L141.25,62.18 L141.49,62.12 L141.73,62.05 L141.97,61.99 L142.21,61.93 L142.45,61.87 L142.69,61.80 L142.93,61.74 L143.17,61.67 L143.41,61.61 L143.65,61.54 L143.89,61.47 L144.13,61.40 L144.36,61.34 L144.60,61.27 L144.84,61.20 L145.08,61.13 L145.32,61.05 L145.56,60.98 L145.80,60.91 L146.04,60.84 L146.28,60.76 L146.52,60.69 L146.76,60.61 L147.00,60.53 L147.24,60.46 L147.48,60.38 L147.72,60.30 L147.95,60.22 L148.19,60.14 L148.43,60.06 L148.67,59.98 L148.91,59.89 L149.15,59.81 L149.39,59.73 L149.63,59.64 L149.87,59.55 L150.11,59.47 L150.35,59.38 L150.59,59.29 L150.83,59.20 L151.07,59.11 L151.31,59.02 L151.54,58.93 L151.78,58.84 L152.02,58.74 L152.26,58.65 L152.50,58.55 L152.74,58.46 L152.98,58.36 L153.22,58.26 L153.46,58.16 L153.70,58.06 L153.94,57.96 L154.18,57.86 L154.42,57.76 L154.66,57.65 L154.90,57.55 L155.13,57.45 L155.37,57.34 L155.61,57.23 L155.85,57.13 L156.09,57.02 L156.33,56.91 L156.57,56.80 L156.81,56.69 L157.05,56.57 L157.29,56.46 L157.53,56.35 L157.77,56.23 L158.01,56.12 L158.25,56.00 L158.48,55.88 L158.72,55.77 L158.96,55.65 L159.20,55.53 L159.44,55.41 L159.68,55.29 L159.92,55.17 L160.16,55.04 L160.40,54.92 L160.64,54.80 L160.88,54.67 L161.12,54.55 L161.36,54.43 L161.60,54.30 L161.84,54.17 L162.07,54.05 L162.31,53.92 L162.55,53.80 L162.79,53.67 L163.03,53.54 L163.27,53.41 L163.51,53.29 L163.75,53.16 L163.99,53.03 L164.23,52.90 L164.47,52.78 L164.71,52.65 L164.95,52.52 L165.19,52.40 L165.43,52.27 L165.66,52.15 L165.90,52.03 L166.14,51.90 L166.38,51.78 L166.62,51.66 L166.86,51.54 L167.10,51.42 L167.34,51.30 L167.58,51.19 L167.82,51.08 L168.06,50.96 L168.30,50.85 L168.54,50.75 L168.78,50.64 L169.02,50.54 L169.25,50.44 L169.49,50.34 L169.73,50.25 L169.97,50.16 L170.21,50.07 L170.45,49.99 L170.69,49.91 L170.93,49.84 L171.17,49.76 L171.41,49.70 L171.65,49.64 L171.89,49.58 L172.13,49.53 L172.37,49.48 L172.61,49.44 L172.84,49.41 L173.08,49.38 L173.32,49.35 L173.56,49.34 L173.80,49.32 L174.04,49.32 L174.28,49.32 L174.52,49.33 L174.76,49.35 L175.00,49.37 L175.24,49.40 L175.48,49.44 L175.72,49.49 L175.96,49.54 L176.20,49.60 L176.43,49.67 L176.67,49.75 L176.91,49.83 L177.15,49.92 L177.39,50.02 L177.63,50.13 L177.87,50.24 L178.11,50.37 L178.35,50.50 L178.59,50.63 L178.83,50.78 L179.07,50.93 L179.31,51.09 L179.55,51.25 L179.79,51.43 L180.02,51.61 L180.26,51.79 L180.50,51.98 L180.74,52.18 L180.98,52.38 L181.22,52.59 L181.46,52.81 L181.70,53.03 L181.94,53.25 L182.18,53.48 L182.42,53.72 L182.66,53.96 L182.90,54.20 L183.14,54.45 L183.37,54.70 L183.61,54.96 L183.85,55.22 L184.09,55.48 L184.33,55.74 L184.57,56.01 L184.81,56.28 L185.05,56.56 L185.29,56.83 L185.53,57.11 L185.77,57.39 L186.01,57.67 L186.25,57.96 L186.49,58.24 L186.73,58.53 L186.96,58.82 L187.20,59.11 L187.44,59.40 L187.68,59.69 L187.92,59.98 L188.16,60.28 L188.40,60.57 L188.64,60.86 L188.88,61.16 L189.12,61.45 L189.36,61.75 L189.60,62.04 L189.84,62.34 L190.08,62.63 L190.32,62.93 L190.55,63.22 L190.79,63.52 L191.03,63.81 L191.27,64.11 L191.51,64.40 L191.75,64.70 L191.99,64.99 L192.23,65.28 L192.47,65.57 L192.71,65.87 L192.95,66.16 L193.19,66.45 L193.43,66.74 L193.67,67.02 L193.91,67.31 L194.14,67.60 L194.38,67.89 L194.62,68.17 L194.86,68.46 L195.10,68.74 L195.34,69.02 L195.58,69.30 L195.82,69.59 L196.06,69.87 L196.30,70.14 L196.54,70.42 L196.78,70.70 L197.02,70.98 L197.26,71.25 L197.50,71.53 L197.73,71.80 L197.97,72.07 L198.21,72.34 L198.45,72.61 L198.69,72.88 L198.93,73.15 L199.17,73.42 L199.41,73.68 L199.65,73.95 L199.89,74.21 L200.13,74.47 L200.37,74.74 L200.61,75.00 L200.85,75.26 L201.09,75.52 L201.32,75.77 L201.56,76.03 L201.80,76.29 L202.04,76.54 L202.28,76.79 L202.52,77.05 L202.76,77.30 L203.00,77.55 L203.24,77.80 L203.48,78.05 L203.72,78.30 L203.96,78.54 L204.20,78.79 L204.44,79.03 L204.67,79.28 L204.91,79.52 L205.15,79.76 L205.39,80.00 L205.63,80.24 L205.87,80.48 L206.11,80.72 L206.35,80.96 L206.59,81.19 L206.83,81.43 L207.07,81.66 L207.31,81.89 L207.55,82.13 L207.79,82.36 L208.03,82.59 L208.26,82.82 L208.50,83.05 L208.74,83.28 L208.98,83.50 L209.22,83.73 L209.46,83.95 L209.70,84.18 L209.94,84.40 L210.18,84.62 L210.42,84.85 L210.66,85.07 L210.90,85.29 L211.14,85.51 L211.38,85.73 L211.62,85.94 L211.85,86.16 L212.09,86.38 L212.33,86.59 L212.57,86.81 L212.81,87.02 L213.05,87.23 L213.29,87.44 L213.53,87.66 L213.77,87.87 L214.01,88.08 L214.25,88.29 L214.49,88.49 L214.73,88.70 L214.97,88.91 L215.21,89.11 L215.44,89.32 L215.68,89.52 L215.92,89.73 L216.16,89.93 L216.40,90.13 L216.64,90.34 L216.88,90.54 L217.12,90.74 L217.36,90.94 L217.60,91.14 L217.84,91.33 L218.08,91.53 L218.32,91.73 L218.56,91.92 L218.80,92.12 L219.03,92.31 L219.27,92.51 L219.51,92.70 L219.75,92.90 L219.99,93.09 L220.23,93.28 L220.47,93.47 L220.71,93.66 L220.95,93.85 L221.19,94.04 L221.43,94.23 L221.67,94.42 L221.91,94.60 L222.15,94.79 L222.39,94.98 L222.62,95.16 L222.86,95.35 L223.10,95.53 L223.34,95.72 L223.58,95.90 L223.82,96.08 L224.06,96.26 L224.30,96.44 L224.54,96.63 L224.78,96.81 L225.02,96.99 L225.26,97.17 L225.50,97.34 L225.74,97.52 L225.97,97.70 L226.21,97.88 L226.45,98.05 L226.69,98.23 L226.93,98.40 L227.17,98.58 L227.41,98.75 L227.65,98.93 L227.89,99.10 L228.13,99.27 L228.37,99.45 L228.61,99.62 L228.85,99.79 L229.09,99.96 L229.33,100.13 L229.56,100.30 L229.80,100.47 L230.04,100.64 L230.28,100.81 L230.52,100.98 L230.76,101.14 L231.00,101.31 L231.24,101.48 L231.48,101.64 L231.72,101.81 L231.96,101.98 L232.20,102.14 L232.44,102.31 L232.68,102.47 L232.92,102.63 L233.15,102.80 L233.39,102.96 L233.63,103.12 L233.87,103.28 L234.11,103.44 L234.35,103.60 L234.59,103.77 L234.83,103.93 L235.07,104.08 L235.31,104.24 L235.55,104.40 L235.79,104.56 L236.03,104.72 L236.27,104.88 L236.51,105.03 L236.74,105.19 L236.98,105.35 L237.22,105.50 L237.46,105.66 L237.70,105.81 L237.94,105.97 L238.18,106.12 L238.42,106.28 L238.66,106.43 L238.90,106.59 L239.14,106.74 L239.38,106.89 L239.62,107.04 L239.86,107.20 L240.10,107.35 L240.33,107.50 L240.57,107.65 L240.81,107.80 L241.05,107.95 L241.29,108.10 L241.53,108.25 L241.77,108.40 L242.01,108.55 L242.25,108.70 L242.49,108.84 L242.73,108.99 L242.97,109.14 L243.21,109.29 L243.45,109.43 L243.69,109.58 L243.92,109.73 L244.16,109.87 L244.40,110.02 L244.64,110.16 L244.88,110.31 L245.12,110.45 L245.36,110.60 L245.60,110.74 L245.84,110.89 L246.08,111.03 L246.32,111.17 L246.56,111.31 L246.80,111.46 L247.04,111.60 L247.28,111.74 L247.51,111.88 L247.75,112.02 L247.99,112.17 L248.23,112.31 L248.47,112.45 L248.71,112.59 L248.95,112.73 L249.19,112.87 L249.43,113.01 L249.67,113.15 L249.91,113.29 L250.15,113.42 L250.39,113.56 L250.63,113.70 L250.86,113.84 L251.10,113.98 L251.34,114.11 L251.58,114.25 L251.82,114.39 L252.06,114.52 L252.30,114.66 L252.54,114.80 L252.78,114.93 L253.02,115.07 L253.26,115.20 L253.50,115.34 L253.74,115.47 L253.98,115.61 L254.22,115.74 L254.45,115.88 L254.69,116.01 L254.93,116.15 L255.17,116.28 L255.41,116.41 L255.65,116.55 L255.89,116.68 L256.13,116.81 L256.37,116.94 L256.61,117.08 L256.85,117.21 L257.09,117.34 L257.33,117.47 L257.57,117.60 L257.81,117.73 L258.04,117.86 L258.28,118.00 L258.52,118.13 L258.76,118.26 L259.00,118.39 L259.24,118.52 L259.48,118.65 L259.72,118.78 L259.96,118.91 L260.20,119.04 L260.44,119.16 L260.68,119.29 L260.92,119.42 L261.16,119.55 L261.40,119.68 L261.63,119.81 L261.87,119.93 L262.11,120.06 L262.35,120.19 L262.59,120.32 L262.83,120.44 L263.07,120.57 L263.31,120.70 L263.55,120.82 L263.79,120.95 L264.03,121.08 L264.27,121.20 L264.51,121.33 L264.75,121.46 L264.99,121.58 L265.22,121.71 L265.46,121.83 L265.70,121.96 L265.94,122.08 L266.18,122.21 L266.42,122.33 L266.66,122.46 L266.90,122.58 L267.14,122.71 L267.38,122.83 L267.62,122.95 L267.86,123.08 L268.10,123.20 L268.34,123.32 L268.58,123.45 L268.81,123.57 L269.05,123.69 L269.29,123.82 L269.53,123.94 L269.77,124.06 L270.01,124.19 L270.25,124.31 L270.49,124.43 L270.73,124.55 L270.97,124.67 L271.21,124.80 L271.45,124.92 L271.69,125.04 L271.93,125.16 L272.16,125.28 L272.40,125.40 L272.64,125.52 L272.88,125.65 L273.12,125.77 L273.36,125.89 L273.60,126.01 L273.84,126.13 L274.08,126.25 L274.32,126.37 L274.56,126.49 L274.80,126.61 L275.04,126.73 L275.28,126.85 L275.52,126.97 L275.75,127.09 L275.99,127.21 L276.23,127.33 L276.47,127.45 L276.71,127.56 L276.95,127.68 L277.19,127.80 L277.43,127.92 L277.67,128.04 L277.91,128.16 L278.15,128.28 L278.39,128.40 L278.63,128.51 L278.87,128.63 L279.11,128.75 L279.34,128.87 L279.58,128.99 L279.82,129.10 L280.06,129.22 L280.30,129.34 L280.54,129.46 L280.78,129.57 L281.02,129.69 L281.26,129.81 L281.50,129.92 L281.74,130.04 L281.98,130.16 L282.22,130.28 L282.46,130.39 L282.70,130.51 L282.93,130.63 L283.17,130.74 L283.41,130.86 L283.65,130.97 L283.89,131.09 L284.13,131.21 L284.37,131.32 L284.61,131.44 L284.85,131.55 L285.09,131.67 L285.33,131.79 L285.57,131.90 L285.81,132.02 L286.05,132.13 L286.29,132.25 L286.52,132.36 L286.76,132.48 L287.00,132.59 L287.24,132.71 L287.48,132.82 L287.72,132.94 L287.96,133.05 L288.20,133.17 L288.44,133.28 L288.68,133.40 L288.92,133.51 L289.16,133.63 L289.40,133.74 L289.64,133.86 L289.88,133.97 L290.11,134.08 L290.35,134.20 L290.59,134.31 L290.83,134.43 L291.07,134.54 L291.31,134.65 L291.55,134.77 L291.79,134.88 L292.03,135.00 L292.27,135.11 L292.51,135.22 L292.75,135.34 L292.99,135.45 L293.23,135.56 L293.46,135.68 L293.70,135.79 L293.94,135.90 L294.18,136.02 L294.42,136.13 L294.66,136.24 L294.90,136.35 L295.14,136.47 L295.38,136.58 L295.62,136.69 L295.86,136.81 L296.10,136.92 L296.34,137.03 L296.58,137.14 L296.82,137.26 L297.05,137.37 L297.29,137.48 L297.53,137.59 L297.77,137.71 L298.01,137.82 L298.25,137.93 L298.49,138.04 L298.73,138.16 L298.97,138.27 L299.21,138.38 L299.45,138.49 L299.69,138.60 L299.93,138.71 L300.17,138.83 L300.41,138.94 L300.64,139.05 L300.88,139.16 L301.12,139.27 L301.36,139.39 L301.60,139.50 L301.84,139.61 L302.08,139.72 L302.32,139.83 L302.56,139.94 L302.80,140.05 L303.04,140.17 L303.28,140.28 L303.52,140.39 L303.76,140.50 L304.00,140.61 L304.23,140.72 L304.47,140.83 L304.71,140.94 L304.95,141.05 L305.19,141.16 L305.43,141.28 L305.67,141.39 L305.91,141.50 L306.15,141.61 L306.39,141.72 L306.63,141.83 L306.87,141.94 L307.11,142.05 L307.35,142.16 L307.59,142.27 L307.82,142.38 L308.06,142.49 L308.30,142.60 L308.54,142.71 L308.78,142.82 L309.02,142.93 L309.26,143.04 L309.50,143.16 L309.74,143.27 L309.98,143.38 L310.22,143.49 L310.46,143.60 L310.70,143.71 L310.94,143.82 L311.18,143.93 L311.41,144.04 L311.65,144.15 L311.89,144.26 L312.13,144.37 L312.37,144.48 L312.61,144.59 L312.85,144.70 L313.09,144.81 L313.33,144.92 L313.57,145.03 L313.81,145.13 L314.05,145.24 L314.29,145.35 L314.53,145.46 L314.77,145.57 L315.00,145.68 L315.24,145.79 L315.48,145.90 L315.72,146.01 L315.96,146.12 L316.20,146.23 L316.44,146.34 L316.68,146.45 L316.92,146.56 L317.16,146.67 L317.40,146.78 L317.64,146.89 L317.88,147.00 L318.12,147.11 L318.35,147.21 L318.59,147.32 L318.83,147.43 L319.07,147.54 L319.31,147.65 L319.55,147.76 L319.79,147.87 L320.03,147.98 L320.27,148.09 L320.51,148.20 L320.75,148.31 L320.99,148.41 L321.23,148.52 L321.47,148.63 L321.71,148.74 L321.94,148.85 L322.18,148.96 L322.42,149.07 L322.66,149.18 L322.90,149.29 L323.14,149.39 L323.38,149.50 L323.62,149.61 L323.86,149.72 L324.10,149.83 L324.34,149.94 L324.58,150.05 L324.82,150.16 L325.06,150.26 L325.30,150.37 L325.53,150.48 L325.77,150.59 L326.01,150.70 L326.25,150.81 L326.49,150.92 L326.73,151.02 L326.97,151.13 L327.21,151.24 L327.45,151.35 L327.69,151.46 L327.93,151.57 L328.17,151.67 L328.41,151.78 L328.65,151.89 L328.89,152.00 L329.12,152.11 L329.36,152.22 L329.60,152.32 L329.84,152.43 L330.08,152.54 L330.32,152.65 L330.56,152.76 L330.80,152.87 L331.04,152.97 L331.28,153.08 L331.52,153.19 L331.76,153.30 L332.00,153.41 L332.24,153.52 L332.48,153.62 L332.71,153.73 L332.95,153.84 L333.19,153.95 L333.43,154.06 L333.67,154.16 L333.91,154.27 L334.15,154.38 L334.39,154.49 L334.63,154.60 L334.87,154.70 L335.11,154.81 L335.35,154.92 L335.59,155.03 L335.83,155.14 L336.07,155.24 L336.30,155.35 L336.54,155.46 L336.78,155.57 L337.02,155.68 L337.26,155.78 L337.50,155.89 L337.74,156.00 L337.98,156.11 L338.22,156.21 L338.46,156.32 L338.70,156.43 L338.94,156.54 L339.18,156.65 L339.42,156.75 L339.65,156.86 L339.89,156.97 L340.13,157.08 L340.37,157.18 L340.61,157.29 L340.85,157.40 L341.09,157.51 L341.33,157.62 L341.57,157.72 L341.81,157.83 L342.05,157.94 L342.29,158.05 L342.53,158.15 L342.77,158.26 L343.01,158.37 L343.24,158.48 L343.48,158.58 L343.72,158.69 L343.96,158.80 L344.20,158.91 L344.44,159.01 L344.68,159.12 L344.92,159.23 L345.16,159.34 L345.40,159.44 L345.64,159.55 L345.88,159.66 L346.12,159.77 L346.36,159.88 L346.60,159.98 L346.83,160.09 L347.07,160.20 L347.31,160.30 L347.55,160.41 L347.79,160.52 L348.03,160.63 L348.27,160.73 L348.51,160.84 L348.75,160.95 L348.99,161.06 L349.23,161.16 L349.47,161.27 L349.71,161.38 L349.95,161.49 L350.19,161.59 L350.42,161.70 L350.66,161.81 L350.90,161.92 L351.14,162.02 L351.38,162.13 L351.62,162.24 L351.86,162.35 L352.10,162.45 L352.34,162.56 L352.58,162.67 L352.82,162.77 L353.06,162.88 L353.30,162.99 L353.54,163.10 L353.78,163.20 L354.01,163.31 L354.25,163.42 L354.49,163.53 L354.73,163.63 L354.97,163.74 L355.21,163.85 L355.45,163.95 L355.69,164.06 L355.93,164.17 L356.17,164.28 L356.41,164.38 L356.65,164.49 L356.89,164.60 L357.13,164.71 L357.37,164.81 L357.60,164.92 L357.84,165.03 L358.08,165.13 L358.32,165.24 L358.56,165.35 L358.80,165.46 L359.04,165.56 L359.28,165.67 L359.52,165.78 L359.76,165.88 L360.00,165.99 L360.24,166.10 L360.48,166.21 L360.72,166.31 L360.95,166.42 L361.19,166.53 L361.43,166.63 L361.67,166.74 L361.91,166.85 L362.15,166.96 L362.39,167.06 L362.63,167.17 L362.87,167.28 L363.11,167.38 L363.35,167.49 L363.59,167.60 L363.83,167.71 L364.07,167.81 L364.31,167.92 L364.54,168.03 L364.78,168.13 L365.02,168.24 L365.26,168.35 L365.50,168.45 L365.74,168.56 L365.98,168.67 L366.22,168.78 L366.46,168.88 L366.70,168.99 L366.94,169.10 L367.18,169.20 L367.42,169.31 L367.66,169.42 L367.90,169.52 L368.13,169.63 L368.37,169.74 L368.61,169.85 L368.85,169.95 L369.09,170.06 L369.33,170.17 L369.57,170.27 L369.81,170.38 L370.05,170.49 L370.29,170.59 L370.53,170.70 L370.77,170.81 L371.01,170.92 L371.25,171.02 L371.49,171.13 L371.72,171.24 L371.96,171.34 L372.20,171.45 L372.44,171.56 L372.68,171.66 L372.92,171.77 L373.16,171.88 L373.40,171.98 L373.64,172.09 L373.88,172.20 L374.12,172.31 L374.36,172.41 L374.60,172.52 L374.84,172.63 L375.08,172.73 L375.31,172.84 L375.55,172.95 L375.79,173.05 L376.03,173.16 L376.27,173.27 L376.51,173.37 L376.75,173.48 L376.99,173.59 L377.23,173.70 L377.47,173.80 L377.71,173.91 L377.95,174.02 L378.19,174.12 L378.43,174.23 L378.67,174.34 L378.90,174.44 L379.14,174.55 L379.38,174.66 L379.62,174.76 L379.86,174.87 L380.10,174.98 L380.34,175.08 L380.58,175.19 L380.82,175.30 L381.06,175.41 L381.30,175.51 L381.54,175.62 L381.78,175.73 L382.02,175.83 L382.26,175.94 L382.49,176.05 L382.73,176.15 L382.97,176.26 L383.21,176.37 L383.45,176.47 L383.69,176.58 L383.93,176.69 L384.17,176.79 L384.41,176.90 L384.65,177.01 L384.89,177.11 L385.13,177.22 L385.37,177.33 L385.61,177.43 L385.84,177.54 L386.08,177.65 L386.32,177.76 L386.56,177.86 L386.80,177.97 L387.04,178.08 L387.28,178.18 L387.52,178.29 L387.76,178.40 L388.00,178.50 L388.24,178.61 L388.48,178.72 L388.72,178.82 L388.96,178.93 L389.20,179.04 L389.43,179.14 L389.67,179.25 L389.91,179.36 L390.15,179.46 L390.39,179.57 L390.63,179.68 L390.87,179.78 L391.11,179.89 L391.35,180.00 L391.59,180.10 L391.83,180.21 L392.07,180.32 L392.31,180.42 L392.55,180.53 L392.79,180.64 L393.02,180.75 L393.26,180.85 L393.50,180.96 L393.74,181.07 L393.98,181.17 L394.22,181.28 L394.46,181.39 L394.70,181.49 L394.94,181.60 L395.18,181.71 L395.42,181.81 L395.66,181.92 L395.90,182.03 L396.14,182.13 L396.38,182.24 L396.61,182.35 L396.85,182.45 L397.09,182.56 L397.33,182.67 L397.57,182.77 L397.81,182.88 L398.05,182.99 L398.29,183.09 L398.53,183.20 L398.77,183.31 L399.01,183.41 L399.25,183.52 L399.49,183.63 L399.73,183.73 L399.97,183.84 L400.20,183.95 L400.44,184.05 L400.68,184.16 L400.92,184.27 L401.16,184.37 L401.40,184.48 L401.64,184.59 L401.88,184.69 L402.12,184.80 L402.36,184.91 L402.60,185.01 L402.84,185.12 L403.08,185.23 L403.32,185.33 L403.56,185.44 L403.79,185.55 L404.03,185.65 L404.27,185.76 L404.51,185.87 L404.75,185.97 L404.99,186.08 L405.23,186.19 L405.47,186.30 L405.71,186.40 L405.95,186.51 L406.19,186.62 L406.43,186.72 L406.67,186.83 L406.91,186.94 L407.14,187.04 L407.38,187.15 L407.62,187.26 L407.86,187.36 L408.10,187.47 L408.34,187.58 L408.58,187.68 L408.82,187.79 L409.06,187.90 L409.30,188.00 L409.54,188.11 L409.78,188.22 L410.02,188.32 L410.26,188.43 L410.50,188.54 L410.73,188.64 L410.97,188.75 L411.21,188.86 L411.45,188.96 L411.69,189.07 L411.93,189.18 L412.17,189.28 L412.41,189.39 L412.65,189.50 L412.89,189.60 L413.13,189.71 L413.37,189.82 L413.61,189.92 L413.85,190.03 L414.09,190.14 L414.32,190.24 L414.56,190.35 L414.80,190.46 L415.04,190.56 L415.28,190.67 L415.52,190.78 L415.76,190.88 L416.00,190.99" stroke="#daa520" stroke-opacity="1" stroke-width="1.5" stroke-dasharray="4.4,1.7"/>
<path d="M57.25,68.19 L57.49,68.19 L57.73,68.18 L57.97,68.18 L58.21,68.18 L58.45,68.18 L58.69,68.17 L58.93,68.17 L59.16,68.17 L59.40,68.17 L59.64,68.16 L59.88,68.16 L60.12,68.16 L60.36,68.16 L60.60,68.16 L60.84,68.15 L61.08,68.15 L61.32,68.15 L61.56,68.15 L61.80,68.14 L62.04,68.14 L62.28,68.14 L62.52,68.13 L62.75,68.13 L62.99,68.13 L63.23,68.13 L63.47,68.12 L63.71,68.12 L63.95,68.12 L64.19,68.12 L64.43,68.11 L64.67,68.11 L64.91,68.11 L65.15,68.10 L65.39,68.10 L65.63,68.10 L65.87,68.10 L66.11,68.09 L66.34,68.09 L66.58,68.09 L66.82,68.08 L67.06,68.08 L67.30,68.08 L67.54,68.07 L67.78,68.07 L68.02,68.07 L68.26,68.06 L68.50,68.06 L68.74,68.06 L68.98,68.05 L69.22,68.05 L69.46,68.05 L69.69,68.04 L69.93,68.04 L70.17,68.04 L70.41,68.03 L70.65,68.03 L70.89,68.03 L71.13,68.02 L71.37,68.02 L71.61,68.01 L71.85,68.01 L72.09,68.01 L72.33,68.00 L72.57,68.00 L72.81,67.99 L73.05,67.99 L73.28,67.99 L73.52,67.98 L73.76,67.98 L74.00,67.97 L74.24,67.97 L74.48,67.97 L74.72,67.96 L74.96,67.96 L75.20,67.95 L75.44,67.95 L75.68,67.94 L75.92,67.94 L76.16,67.94 L76.40,67.93 L76.64,67.93 L76.87,67.92 L77.11,67.92 L77.35,67.91 L77.59,67.91 L77.83,67.90 L78.07,67.90 L78.31,67.89 L78.55,67.89 L78.79,67.88 L79.03,67.88 L79.27,67.87 L79.51,67.87 L79.75,67.86 L79.99,67.86 L80.23,67.85 L80.46,67.85 L80.70,67.84 L80.94,67.84 L81.18,67.83 L81.42,67.83 L81.66,67.82 L81.90,67.81 L82.14,67.81 L82.38,67.80 L82.62,67.80 L82.86,67.79 L83.10,67.79 L83.34,67.78 L83.58,67.77 L83.82,67.77 L84.05,67.76 L84.29,67.76 L84.53,67.75 L84.77,67.74 L85.01,67.74 L85.25,67.73 L85.49,67.72 L85.73,67.72 L85.97,67.71 L86.21,67.70 L86.45,67.70 L86.69,67.69 L86.93,67.68 L87.17,67.68 L87.41,67.67 L87.64,67.66 L87.88,67.65 L88.12,67.65 L88.36,67.64 L88.60,67.63 L88.84,67.63 L89.08,67.62 L89.32,67.61 L89.56,67.60 L89.80,67.60 L90.04,67.59 L90.28,67.58 L90.52,67.57 L90.76,67.56 L90.99,67.56 L91.23,67.55 L91.47,67.54 L91.71,67.53 L91.95,67.52 L92.19,67.51 L92.43,67.51 L92.67,67.50 L92.91,67.49 L93.15,67.48 L93.39,67.47 L93.63,67.46 L93.87,67.45 L94.11,67.44 L94.35,67.43 L94.58,67.42 L94.82,67.42 L95.06,67.41 L95.30,67.40 L95.54,67.39 L95.78,67.38 L96.02,67.37 L96.26,67.36 L96.50,67.35 L96.74,67.34 L96.98,67.33 L97.22,67.32 L97.46,67.31 L97.70,67.29 L97.94,67.28 L98.17,67.27 L98.41,67.26 L98.65,67.25 L98.89,67.24 L99.13,67.23 L99.37,67.22 L99.61,67.21 L99.85,67.19 L100.09,67.18 L100.33,67.17 L100.57,67.16 L100.81,67.15 L101.05,67.14 L101.29,67.12 L101.53,67.11 L101.76,67.10 L102.00,67.09 L102.24,67.07 L102.48,67.06 L102.72,67.05 L102.96,67.03 L103.20,67.02 L103.44,67.01 L103.68,66.99 L103.92,66.98 L104.16,66.97 L104.40,66.95 L104.64,66.94 L104.88,66.92 L105.12,66.91 L105.35,66.90 L105.59,66.88 L105.83,66.87 L106.07,66.85 L106.31,66.84 L106.55,66.82 L106.79,66.81 L107.03,66.79 L107.27,66.77 L107.51,66.76 L107.75,66.74 L107.99,66.73 L108.23,66.71 L108.47,66.69 L108.71,66.68 L108.94,66.66 L109.18,66.64 L109.42,66.63 L109.66,66.61 L109.90,66.59 L110.14,66.57 L110.38,66.56 L110.62,66.54 L110.86,66.52 L111.10,66.50 L111.34,66.48 L111.58,66.47 L111.82,66.45 L112.06,66.43 L112.30,66.41 L112.53,66.39 L112.77,66.37 L113.01,66.35 L113.25,66.33 L113.49,66.31 L113.73,66.29 L113.97,66.27 L114.21,66.25 L114.45,66.23 L114.69,66.20 L114.93,66.18 L115.17,66.16 L115.41,66.14 L115.65,66.12 L115.88,66.09 L116.12,66.07 L116.36,66.05 L116.60,66.03 L116.84,66.00 L117.08,65.98 L117.32,65.95 L117.56,65.93 L117.80,65.91 L118.04,65.88 L118.28,65.86 L118.52,65.83 L118.76,65.81 L119.00,65.78 L119.24,65.75 L119.47,65.73 L119.71,65.70 L119.95,65.68 L120.19,65.65 L120.43,65.62 L120.67,65.59 L120.91,65.57 L121.15,65.54 L121.39,65.51 L121.63,65.48 L121.87,65.45 L122.11,65.42 L122.35,65.39 L122.59,65.36 L122.83,65.33 L123.06,65.30 L123.30,65.27 L123.54,65.24 L123.78,65.21 L124.02,65.18 L124.26,65.14 L124.50,65.11 L124.74,65.08 L124.98,65.04 L125.22,65.01 L125.46,64.98 L125.70,64.94 L125.94,64.91 L126.18,64.87 L126.42,64.84 L126.65,64.80 L126.89,64.76 L127.13,64.73 L127.37,64.69 L127.61,64.65 L127.85,64.62 L128.09,64.58 L128.33,64.54 L128.57,64.50 L128.81,64.46 L129.05,64.42 L129.29,64.38 L129.53,64.34 L129.77,64.30 L130.01,64.26 L130.24,64.21 L130.48,64.17 L130.72,64.13 L130.96,64.08 L131.20,64.04 L131.44,63.99 L131.68,63.95 L131.92,63.90 L132.16,63.86 L132.40,63.81 L132.64,63.76 L132.88,63.72 L133.12,63.67 L133.36,63.62 L133.60,63.57 L133.83,63.52 L134.07,63.47 L134.31,63.42 L134.55,63.37 L134.79,63.31 L135.03,63.26 L135.27,63.21 L135.51,63.15 L135.75,63.10 L135.99,63.04 L136.23,62.99 L136.47,62.93 L136.71,62.87 L136.95,62.81 L137.18,62.75 L137.42,62.69 L137.66,62.63 L137.90,62.57 L138.14,62.51 L138.38,62.45 L138.62,62.39 L138.86,62.32 L139.10,62.26 L139.34,62.19 L139.58,62.13 L139.82,62.06 L140.06,61.99 L140.30,61.92 L140.54,61.85 L140.77,61.78 L141.01,61.71 L141.25,61.64 L141.49,61.57 L141.73,61.49 L141.97,61.42 L142.21,61.34 L142.45,61.26 L142.69,61.19 L142.93,61.11 L143.17,61.03 L143.41,60.95 L143.65,60.87 L143.89,60.78 L144.13,60.70 L144.36,60.61 L144.60,60.53 L144.84,60.44 L145.08,60.35 L145.32,60.26 L145.56,60.17 L145.80,60.08 L146.04,59.99 L146.28,59.89 L146.52,59.80 L146.76,59.70 L147.00,59.60 L147.24,59.50 L147.48,59.40 L147.72,59.30 L147.95,59.19 L148.19,59.09 L148.43,58.98 L148.67,58.87 L148.91,58.76 L149.15,58.65 L149.39,58.54 L149.63,58.43 L149.87,58.31 L150.11,58.19 L150.35,58.07 L150.59,57.95 L150.83,57.83 L151.07,57.70 L151.31,57.58 L151.54,57.45 L151.78,57.32 L152.02,57.19 L152.26,57.05 L152.50,56.92 L152.74,56.78 L152.98,56.64 L153.22,56.49 L153.46,56.35 L153.70,56.20 L153.94,56.05 L154.18,55.90 L154.42,55.75 L154.66,55.59 L154.90,55.43 L155.13,55.27 L155.37,55.10 L155.61,54.94 L155.85,54.77 L156.09,54.59 L156.33,54.42 L156.57,54.24 L156.81,54.06 L157.05,53.87 L157.29,53.68 L157.53,53.49 L157.77,53.30 L158.01,53.10 L158.25,52.90 L158.48,52.69 L158.72,52.48 L158.96,52.27 L159.20,52.05 L159.44,51.83 L159.68,51.60 L159.92,51.37 L160.16,51.14 L160.40,50.90 L160.64,50.66 L160.88,50.41 L161.12,50.15 L161.36,49.89 L161.60,49.63 L161.84,49.36 L162.07,49.08 L162.31,48.80 L162.55,48.52 L162.79,48.22 L163.03,47.92 L163.27,47.61 L163.51,47.30 L163.75,46.98 L163.99,46.65 L164.23,46.31 L164.47,45.97 L164.71,45.61 L164.95,45.25 L165.19,44.88 L165.43,44.49 L165.66,44.10 L165.90,43.70 L166.14,43.29 L166.38,42.86 L166.62,42.43 L166.86,41.98 L167.10,41.52 L167.34,41.04 L167.58,40.55 L167.82,40.04 L168.06,39.52 L168.30,38.98 L168.54,38.43 L168.78,37.85 L169.02,37.25 L169.25,36.64 L169.49,35.99 L169.73,35.33 L169.97,34.64 L170.21,33.92 L170.45,33.17 L170.69,32.39 L170.93,31.57 L171.17,30.72 L171.41,29.82 L171.65,28.88 L171.89,27.89 L172.13,26.84 L172.37,25.74 L172.61,24.57 L172.84,23.33 L173.08,22.00 L173.32,20.58 L173.56,19.05 L173.80,17.39 L174.04,15.60 L174.28,13.63 L174.52,11.46 L174.76,9.03 L175.00,6.30 L175.24,3.17 L175.48,-0.48 L175.72,-4.87 L175.96,-10.34 L176.20,-17.60 L176.43,-28.37 L176.67,-49.46 L176.91,-60.00 L177.15,-33.21 L177.39,-20.16 L177.63,-11.80 L177.87,-5.62 L178.11,-0.71 L178.35,3.37 L178.59,6.87 L178.83,9.94 L179.07,12.67 L179.31,15.13 L179.55,17.38 L179.79,19.44 L180.02,21.35 L180.26,23.14 L180.50,24.81 L180.74,26.38 L180.98,27.86 L181.22,29.27 L181.46,30.61 L181.70,31.88 L181.94,33.10 L182.18,34.27 L182.42,35.40 L182.66,36.48 L182.90,37.52 L183.14,38.53 L183.37,39.50 L183.61,40.44 L183.85,41.36 L184.09,42.24 L184.33,43.11 L184.57,43.94 L184.81,44.76 L185.05,45.56 L185.29,46.33 L185.53,47.09 L185.77,47.83 L186.01,48.56 L186.25,49.27 L186.49,49.96 L186.73,50.64 L186.96,51.31 L187.20,51.96 L187.44,52.60 L187.68,53.23 L187.92,53.85 L188.16,54.46 L188.40,55.06 L188.64,55.64 L188.88,56.22 L189.12,56.79 L189.36,57.35 L189.60,57.91 L189.84,58.45 L190.08,58.99 L190.32,59.52 L190.55,60.04 L190.79,60.56 L191.03,61.07 L191.27,61.57 L191.51,62.07 L191.75,62.56 L191.99,63.04 L192.23,63.52 L192.47,64.00 L192.71,64.47 L192.95,64.93 L193.19,65.39 L193.43,65.84 L193.67,66.29 L193.91,66.74 L194.14,67.18 L194.38,67.61 L194.62,68.05 L194.86,68.47 L195.10,68.90 L195.34,69.32 L195.58,69.73 L195.82,70.15 L196.06,70.56 L196.30,70.96 L196.54,71.37 L196.78,71.76 L197.02,72.16 L197.26,72.55 L197.50,72.94 L197.73,73.33 L197.97,73.72 L198.21,74.10 L198.45,74.48 L198.69,74.85 L198.93,75.22 L199.17,75.60 L199.41,75.96 L199.65,76.33 L199.89,76.69 L200.13,77.05 L200.37,77.41 L200.61,77.77 L200.85,78.12 L201.09,78.48 L201.32,78.83 L201.56,79.18 L201.80,79.52 L202.04,79.87 L202.28,80.21 L202.52,80.55 L202.76,80.89 L203.00,81.22 L203.24,81.56 L203.48,81.89 L203.72,82.22 L203.96,82.55 L204.20,82.88 L204.44,83.21 L204.67,83.53 L204.91,83.86 L205.15,84.18 L205.39,84.50 L205.63,84.82 L205.87,85.13 L206.11,85.45 L206.35,85.77 L206.59,86.08 L206.83,86.39 L207.07,86.70 L207.31,87.01 L207.55,87.32 L207.79,87.63 L208.03,87.93 L208.26,88.24 L208.50,88.54 L208.74,88.84 L208.98,89.14 L209.22,89.44 L209.46,89.74 L209.70,90.04 L209.94,90.33 L210.18,90.63 L210.42,90.92 L210.66,91.22 L210.90,91.51 L211.14,91.80 L211.38,92.09 L211.62,92.38 L211.85,92.67 L212.09,92.96 L212.33,93.24 L212.57,93.53 L212.81,93.81 L213.05,94.10 L213.29,94.38 L213.53,94.66 L213.77,94.94 L214.01,95.22 L214.25,95.50 L214.49,95.78 L214.73,96.06 L214.97,96.34 L215.21,96.62 L215.44,96.89 L215.68,97.17 L215.92,97.44 L216.16,97.71 L216.40,97.99 L216.64,98.26 L216.88,98.53 L217.12,98.80 L217.36,99.07 L217.60,99.34 L217.84,99.61 L218.08,99.88 L218.32,100.15 L218.56,100.41 L218.80,100.68 L219.03,100.95 L219.27,101.21 L219.51,101.48 L219.75,101.74 L219.99,102.00 L220.23,102.27 L220.47,102.53 L220.71,102.79 L220.95,103.05 L221.19,103.31 L221.43,103.57 L221.67,103.83 L221.91,104.09 L222.15,104.35 L222.39,104.61 L222.62,104.87 L222.86,105.12 L223.10,105.38 L223.34,105.63 L223.58,105.89 L223.82,106.15 L224.06,106.40 L224.30,106.65 L224.54,106.91 L224.78,107.16 L225.02,107.42 L225.26,107.67 L225.50,107.92 L225.74,108.17 L225.97,108.42 L226.21,108.67 L226.45,108.92 L226.69,109.17 L226.93,109.42 L227.17,109.67 L227.41,109.92 L227.65,110.17 L227.89,110.42 L228.13,110.67 L228.37,110.91 L228.61,111.16 L228.85,111.41 L229.09,111.65 L229.33,111.90 L229.56,112.15 L229.80,112.39 L230.04,112.64 L230.28,112.88 L230.52,113.12 L230.76,113.37 L231.00,113.61 L231.24,113.85 L231.48,114.10 L231.72,114.34 L231.96,114.58 L232.20,114.83 L232.44,115.07 L232.68,115.31 L232.92,115.55 L233.15,115.79 L233.39,116.03 L233.63,116.27 L233.87,116.51 L234.11,116.75 L234.35,116.99 L234.59,117.23 L234.83,117.47 L235.07,117.71 L235.31,117.95 L235.55,118.18 L235.79,118.42 L236.03,118.66 L236.27,118.90 L236.51,119.13 L236.74,119.37 L236.98,119.61 L237.22,119.84 L237.46,120.08 L237.70,120.32 L237.94,120.55 L238.18,120.79 L238.42,121.02 L238.66,121.26 L238.90,121.49 L239.14,121.73 L239.38,121.96 L239.62,122.20 L239.86,122.43 L240.10,122.66 L240.33,122.90 L240.57,123.13 L240.81,123.36 L241.05,123.60 L241.29,123.83 L241.53,124.06 L241.77,124.29 L242.01,124.53 L242.25,124.76 L242.49,124.99 L242.73,125.22 L242.97,125.45 L243.21,125.68 L243.45,125.92 L243.69,126.15 L243.92,126.38 L244.16,126.61 L244.40,126.84 L244.64,127.07 L244.88,127.30 L245.12,127.53 L245.36,127.76 L245.60,127.99 L245.84,128.22 L246.08,128.45 L246.32,128.68 L246.56,128.90 L246.80,129.13 L247.04,129.36 L247.28,129.59 L247.51,129.82 L247.75,130.05 L247.99,130.27 L248.23,130.50 L248.47,130.73 L248.71,130.96 L248.95,131.18 L249.19,131.41 L249.43,131.64 L249.67,131.87 L249.91,132.09 L250.15,132.32 L250.39,132.55 L250.63,132.77 L250.86,133.00 L251.10,133.23 L251.34,133.45 L251.58,133.68 L251.82,133.90 L252.06,134.13 L252.30,134.36 L252.54,134.58 L252.78,134.81 L253.02,135.03 L253.26,135.26 L253.50,135.48 L253.74,135.71 L253.98,135.93 L254.22,136.16 L254.45,136.38 L254.69,136.60 L254.93,136.83 L255.17,137.05 L255.41,137.28 L255.65,137.50 L255.89,137.73 L256.13,137.95 L256.37,138.17 L256.61,138.40 L256.85,138.62 L257.09,138.84 L257.33,139.07 L257.57,139.29 L257.81,139.51 L258.04,139.74 L258.28,139.96 L258.52,140.18 L258.76,140.41 L259.00,140.63 L259.24,140.85 L259.48,141.07 L259.72,141.30 L259.96,141.52 L260.20,141.74 L260.44,141.96 L260.68,142.18 L260.92,142.41 L261.16,142.63 L261.40,142.85 L261.63,143.07 L261.87,143.29 L262.11,143.51 L262.35,143.74 L262.59,143.96 L262.83,144.18 L263.07,144.40 L263.31,144.62 L263.55,144.84 L263.79,145.06 L264.03,145.28 L264.27,145.51 L264.51,145.73 L264.75,145.95 L264.99,146.17 L265.22,146.39 L265.46,146.61 L265.70,146.83 L265.94,147.05 L266.18,147.27 L266.42,147.49 L266.66,147.71 L266.90,147.93 L267.14,148.15 L267.38,148.37 L267.62,148.59 L267.86,148.81 L268.10,149.03 L268.34,149.25 L268.58,149.47 L268.81,149.69 L269.05,149.91 L269.29,150.13 L269.53,150.35 L269.77,150.57 L270.01,150.79 L270.25,151.01 L270.49,151.22 L270.73,151.44 L270.97,151.66 L271.21,151.88 L271.45,152.10 L271.69,152.32 L271.93,152.54 L272.16,152.76 L272.40,152.98 L272.64,153.19 L272.88,153.41 L273.12,153.63 L273.36,153.85 L273.60,154.07 L273.84,154.29 L274.08,154.51 L274.32,154.72 L274.56,154.94 L274.80,155.16 L275.04,155.38 L275.28,155.60 L275.52,155.82 L275.75,156.03 L275.99,156.25 L276.23,156.47 L276.47,156.69 L276.71,156.91 L276.95,157.12 L277.19,157.34 L277.43,157.56 L277.67,157.78 L277.91,157.99 L278.15,158.21 L278.39,158.43 L278.63,158.65 L278.87,158.86 L279.11,159.08 L279.34,159.30 L279.58,159.52 L279.82,159.73 L280.06,159.95 L280.30,160.17 L280.54,160.39 L280.78,160.60 L281.02,160.82 L281.26,161.04 L281.50,161.25 L281.74,161.47 L281.98,161.69 L282.22,161.91 L282.46,162.12 L282.70,162.34 L282.93,162.56 L283.17,162.77 L283.41,162.99 L283.65,163.21 L283.89,163.42 L284.13,163.64 L284.37,163.86 L284.61,164.07 L284.85,164.29 L285.09,164.51 L285.33,164.72 L285.57,164.94 L285.81,165.16 L286.05,165.37 L286.29,165.59 L286.52,165.81 L286.76,166.02 L287.00,166.24 L287.24,166.45 L287.48,166.67 L287.72,166.89 L287.96,167.10 L288.20,167.32 L288.44,167.54 L288.68,167.75 L288.92,167.97 L289.16,168.18 L289.40,168.40 L289.64,168.62 L289.88,168.83 L290.11,169.05 L290.35,169.26 L290.59,169.48 L290.83,169.70 L291.07,169.91 L291.31,170.13 L291.55,170.34 L291.79,170.56 L292.03,170.78 L292.27,170.99 L292.51,171.21 L292.75,171.42 L292.99,171.64 L293.23,171.85 L293.46,172.07 L293.70,172.29 L293.94,172.50 L294.18,172.72 L294.42,172.93 L294.66,173.15 L294.90,173.36 L295.14,173.58 L295.38,173.79 L295.62,174.01 L295.86,174.22 L296.10,174.44 L296.34,174.66 L296.58,174.87 L296.82,175.09 L297.05,175.30 L297.29,175.52 L297.53,175.73 L297.77,175.95 L298.01,176.16 L298.25,176.38 L298.49,176.59 L298.73,176.81 L298.97,177.02 L299.21,177.24 L299.45,177.45 L299.69,177.67 L299.93,177.88 L300.17,178.10 L300.41,178.31 L300.64,178.53 L300.88,178.74 L301.12,178.96 L301.36,179.17 L301.60,179.39 L301.84,179.60 L302.08,179.82 L302.32,180.03 L302.56,180.25 L302.80,180.46 L303.04,180.68 L303.28,180.89 L303.52,181.11 L303.76,181.32 L304.00,181.54 L304.23,181.75 L304.47,181.97 L304.71,182.18 L304.95,182.40 L305.19,182.61 L305.43,182.83 L305.67,183.04 L305.91,183.26 L306.15,183.47 L306.39,183.69 L306.63,183.90 L306.87,184.12 L307.11,184.33 L307.35,184.54 L307.59,184.76 L307.82,184.97 L308.06,185.19 L308.30,185.40 L308.54,185.62 L308.78,185.83 L309.02,186.05 L309.26,186.26 L309.50,186.48 L309.74,186.69 L309.98,186.90 L310.22,187.12 L310.46,187.33 L310.70,187.55 L310.94,187.76 L311.18,187.98 L311.41,188.19 L311.65,188.41 L311.89,188.62 L312.13,188.83 L312.37,189.05 L312.61,189.26 L312.85,189.48 L313.09,189.69 L313.33,189.91 L313.57,190.12 L313.81,190.34 L314.05,190.55 L314.29,190.76 L314.53,190.98 L314.77,191.19 L315.00,191.41 L315.24,191.62 L315.48,191.84 L315.72,192.05 L315.96,192.26 L316.20,192.48 L316.44,192.69 L316.68,192.91 L316.92,193.12 L317.16,193.33 L317.40,193.55 L317.64,193.76 L317.88,193.98 L318.12,194.19 L318.35,194.41 L318.59,194.62 L318.83,194.83 L319.07,195.05 L319.31,195.26 L319.55,195.48 L319.79,195.69 L320.03,195.90 L320.27,196.12 L320.51,196.33 L320.75,196.55 L320.99,196.76 L321.23,196.97 L321.47,197.19 L321.71,197.40 L321.94,197.62 L322.18,197.83 L322.42,198.05 L322.66,198.26 L322.90,198.47 L323.14,198.69 L323.38,198.90 L323.62,199.11 L323.86,199.33 L324.10,199.54 L324.34,199.76 L324.58,199.97 L324.82,200.18 L325.06,200.40 L325.30,200.61 L325.53,200.83 L325.77,201.04 L326.01,201.25 L326.25,201.47 L326.49,201.68 L326.73,201.90 L326.97,202.11 L327.21,202.32 L327.45,202.54 L327.69,202.75 L327.93,202.97 L328.17,203.18 L328.41,203.39 L328.65,203.61 L328.89,203.82 L329.12,204.03 L329.36,204.25 L329.60,204.46 L329.84,204.68 L330.08,204.89 L330.32,205.10 L330.56,205.32 L330.80,205.53 L331.04,205.75 L331.28,205.96 L331.52,206.17 L331.76,206.39 L332.00,206.60 L332.24,206.81 L332.48,207.03 L332.71,207.24 L332.95,207.46 L333.19,207.67 L333.43,207.88 L333.67,208.10 L333.91,208.31 L334.15,208.52 L334.39,208.74 L334.63,208.95 L334.87,209.17 L335.11,209.38 L335.35,209.59 L335.59,209.81 L335.83,210.02 L336.07,210.23 L336.30,210.45 L336.54,210.66 L336.78,210.87 L337.02,211.09 L337.26,211.30 L337.50,211.52 L337.74,211.73 L337.98,211.94 L338.22,212.16 L338.46,212.37 L338.70,212.58 L338.94,212.80 L339.18,213.01 L339.42,213.22 L339.65,213.44 L339.89,213.65 L340.13,213.87 L340.37,214.08 L340.61,214.29 L340.85,214.51 L341.09,214.72 L341.33,214.93 L341.57,215.15 L341.81,215.36 L342.05,215.57 L342.29,215.79 L342.53,216.00 L342.77,216.22 L343.01,216.43 L343.24,216.64 L343.48,216.86 L343.72,217.07 L343.96,217.28 L344.20,217.50 L344.44,217.71 L344.68,217.92 L344.92,218.14 L345.16,218.35 L345.40,218.56 L345.64,218.78 L345.88,218.99 L346.12,219.20 L346.36,219.42 L346.60,219.63 L346.83,219.85 L347.07,220.06 L347.31,220.27 L347.55,220.49 L347.79,220.70 L348.03,220.91 L348.27,221.13 L348.51,221.34 L348.75,221.55 L348.99,221.77 L349.23,221.98 L349.47,222.19 L349.71,222.41 L349.95,222.62 L350.19,222.83 L350.42,223.05 L350.66,223.26 L350.90,223.48 L351.14,223.69 L351.38,223.90 L351.62,224.12 L351.86,224.33 L352.10,224.54 L352.34,224.76 L352.58,224.97 L352.82,225.18 L353.06,225.40 L353.30,225.61 L353.54,225.82 L353.78,226.04 L354.01,226.25 L354.25,226.46 L354.49,226.68 L354.73,226.89 L354.97,227.10 L355.21,227.32 L355.45,227.53 L355.69,227.74 L355.93,227.96 L356.17,228.17 L356.41,228.38 L356.65,228.60 L356.89,228.81 L357.13,229.03 L357.37,229.24 L357.60,229.45 L357.84,229.67 L358.08,229.88 L358.32,230.09 L358.56,230.31 L358.80,230.52 L359.04,230.73 L359.28,230.95 L359.52,231.16 L359.76,231.37 L360.00,231.59 L360.24,231.80 L360.48,232.01 L360.72,232.23 L360.95,232.44 L361.19,232.65 L361.43,232.87 L361.67,233.08 L361.91,233.29 L362.15,233.51 L362.39,233.72 L362.63,233.93 L362.87,234.15 L363.11,234.36 L363.35,234.57 L363.59,234.79 L363.83,235.00 L364.07,235.21 L364.31,235.43 L364.54,235.64 L364.78,235.85 L365.02,236.07 L365.26,236.28 L365.50,236.49 L365.74,236.71 L365.98,236.92 L366.22,237.13 L366.46,237.35 L366.70,237.56 L366.94,237.77 L367.18,237.99 L367.42,238.20 L367.66,238.41 L367.90,238.63 L368.13,238.84 L368.37,239.05 L368.61,239.27 L368.85,239.48 L369.09,239.69 L369.33,239.91 L369.57,240.12 L369.81,240.33 L370.05,240.55 L370.29,240.76 L370.53,240.97 L370.77,241.19 L371.01,241.40 L371.25,241.61 L371.49,241.83 L371.72,242.04 L371.96,242.25 L372.20,242.47 L372.44,242.68 L372.68,242.89 L372.92,243.11 L373.16,243.32 L373.40,243.53 L373.64,243.75 L373.88,243.96 L374.12,244.17 L374.36,244.39 L374.60,244.60 L374.84,244.81 L375.08,245.03 L375.31,245.24 L375.55,245.45 L375.79,245.67 L376.03,245.88 L376.27,246.09 L376.51,246.31 L376.75,246.52 L376.99,246.73 L377.23,246.95 L377.47,247.16 L377.71,247.37 L377.95,247.59 L378.19,247.80 L378.43,248.01 L378.67,248.23 L378.90,248.44 L379.14,248.65 L379.38,248.87 L379.62,249.08 L379.86,249.29 L380.10,249.51 L380.34,249.72 L380.58,249.93 L380.82,250.15 L381.06,250.36 L381.30,250.57 L381.54,250.79 L381.78,251.00 L382.02,251.21 L382.26,251.43 L382.49,251.64 L382.73,251.85 L382.97,252.07 L383.21,252.28 L383.45,252.49 L383.69,252.71 L383.93,252.92 L384.17,253.13 L384.41,253.35 L384.65,253.56 L384.89,253.77 L385.13,253.99 L385.37,254.20 L385.61,254.41 L385.84,254.63 L386.08,254.84 L386.32,255.05 L386.56,255.27 L386.80,255.48 L387.04,255.69 L387.28,255.91 L387.52,256.12 L387.76,256.33 L388.00,256.55 L388.24,256.76 L388.48,256.97 L388.72,257.19 L388.96,257.40 L389.20,257.61 L389.43,257.83 L389.67,258.04 L389.91,258.25 L390.15,258.47 L390.39,258.68 L390.63,258.89 L390.87,259.11 L391.11,259.32 L391.35,259.53 L391.59,259.75 L391.83,259.96 L392.07,260.17 L392.31,260.39 L392.55,260.60 L392.79,260.81 L393.02,261.03 L393.26,261.24 L393.50,261.45 L393.74,261.66 L393.98,261.88 L394.22,262.09 L394.46,262.30 L394.70,262.52 L394.94,262.73 L395.18,262.94 L395.42,263.16 L395.66,263.37 L395.90,263.58 L396.14,263.80 L396.38,264.01 L396.61,264.22 L396.85,264.44 L397.09,264.65 L397.33,264.86 L397.57,265.08 L397.81,265.29 L398.05,265.50 L398.29,265.72 L398.53,265.93 L398.77,266.14 L399.01,266.36 L399.25,266.57 L399.49,266.78 L399.73,267.00 L399.97,267.21 L400.20,267.42 L400.44,267.64 L400.68,267.85 L400.92,268.06 L401.16,268.28 L401.40,268.49 L401.64,268.70 L401.88,268.92 L402.12,269.13 L402.36,269.34 L402.60,269.56 L402.84,269.77 L403.08,269.98 L403.32,270.20 L403.56,270.41 L403.79,270.62 L404.03,270.84 L404.27,271.05 L404.51,271.26 L404.75,271.47 L404.99,271.69 L405.23,271.90 L405.47,272.11 L405.71,272.33 L405.95,272.54 L406.19,272.75 L406.43,272.97 L406.67,273.18 L406.91,273.39 L407.14,273.61 L407.38,273.82 L407.62,274.03 L407.86,274.25 L408.10,274.46 L408.34,274.67 L408.58,274.89 L408.82,275.10 L409.06,275.31 L409.30,275.53 L409.54,275.74 L409.78,275.95 L410.02,276.17 L410.26,276.38 L410.50,276.59 L410.73,276.81 L410.97,277.02 L411.21,277.23 L411.45,277.45 L411.69,277.66 L411.93,277.87 L412.17,278.09 L412.41,278.30 L412.65,278.51 L412.89,278.73 L413.13,278.94 L413.37,279.15 L413.61,279.37 L413.85,279.58 L414.09,279.79 L414.32,280.00 L414.56,280.22 L414.80,280.43 L415.04,280.64 L415.28,280.86 L415.52,281.07 L415.76,281.28 L416.00,281.50" stroke="#0000cd" stroke-opacity="0.92" stroke-width="1.6" stroke-dasharray="7.3,1.85,1.15,1.85"/>
</g>
<line x1="57.25" x2="57.25" y1="281.5" y2="276.5" stroke="#000" stroke-width="1.0"/>
<line x1="57.25" x2="57.25" y1="15.15" y2="20.15" stroke="#000" stroke-width="1.0"/>
<line x1="93.25" x2="93.25" y1="281.5" y2="278.7" stroke="#000" stroke-width="0.9"/>
<line x1="93.25" x2="93.25" y1="15.15" y2="17.95" stroke="#000" stroke-width="0.9"/>
<line x1="114.31" x2="114.31" y1="281.5" y2="278.7" stroke="#000" stroke-width="0.9"/>
<line x1="114.31" x2="114.31" y1="15.15" y2="17.95" stroke="#000" stroke-width="0.9"/>
<line x1="129.25" x2="129.25" y1="281.5" y2="278.7" stroke="#000" stroke-width="0.9"/>
<line x1="129.25" x2="129.25" y1="15.15" y2="17.95" stroke="#000" stroke-width="0.9"/>
<line x1="140.84" x2="140.84" y1="281.5" y2="278.7" stroke="#000" stroke-width="0.9"/>
<line x1="140.84" x2="140.84" y1="15.15" y2="17.95" stroke="#000" stroke-width="0.9"/>
<line x1="150.30" x2="150.30" y1="281.5" y2="278.7" stroke="#000" stroke-width="0.9"/>
<line x1="150.30" x2="150.30" y1="15.15" y2="17.95" stroke="#000" stroke-width="0.9"/>
<line x1="158.31" x2="158.31" y1="281.5" y2="278.7" stroke="#000" stroke-width="0.9"/>
<line x1="158.31" x2="158.31" y1="15.15" y2="17.95" stroke="#000" stroke-width="0.9"/>
<line x1="165.24" x2="165.24" y1="281.5" y2="278.7" stroke="#000" stroke-width="0.9"/>
<line x1="165.24" x2="165.24" y1="15.15" y2="17.95" stroke="#000" stroke-width="0.9"/>
<line x1="171.36" x2="171.36" y1="281.5" y2="278.7" stroke="#000" stroke-width="0.9"/>
<line x1="171.36" x2="171.36" y1="15.15" y2="17.95" stroke="#000" stroke-width="0.9"/>
<line x1="176.83" x2="176.83" y1="281.5" y2="276.5" stroke="#000" stroke-width="1.0"/>
<line x1="176.83" x2="176.83" y1="15.15" y2="20.15" stroke="#000" stroke-width="1.0"/>
<line x1="212.83" x2="212.83" y1="281.5" y2="278.7" stroke="#000" stroke-width="0.9"/>
<line x1="212.83" x2="212.83" y1="15.15" y2="17.95" stroke="#000" stroke-width="0.9"/>
<line x1="233.89" x2="233.89" y1="281.5" y2="278.7" stroke="#000" stroke-width="0.9"/>
<line x1="233.89" x2="233.89" y1="15.15" y2="17.95" stroke="#000" stroke-width="0.9"/>
<line x1="248.83" x2="248.83" y1="281.5" y2="278.7" stroke="#000" stroke-width="0.9"/>
<line x1="248.83" x2="248.83" y1="15.15" y2="17.95" stroke="#000" stroke-width="0.9"/>
<line x1="260.42" x2="260.42" y1="281.5" y2="278.7" stroke="#000" stroke-width="0.9"/>
<line x1="260.42" x2="260.42" y1="15.15" y2="17.95" stroke="#000" stroke-width="0.9"/>
<line x1="269.89" x2="269.89" y1="281.5" y2="278.7" stroke="#000" stroke-width="0.9"/>
<line x1="269.89" x2="269.89" y1="15.15" y2="17.95" stroke="#000" stroke-width="0.9"/>
<line x1="277.89" x2="277.89" y1="281.5" y2="278.7" stroke="#000" stroke-width="0.9"/>
<line x1="277.89" x2="277.89" y1="15.15" y2="17.95" stroke="#000" stroke-width="0.9"/>
<line x1="284.83" x2="284.83" y1="281.5" y2="278.7" stroke="#000" stroke-width="0.9"/>
<line x1="284.83" x2="284.83" y1="15.15" y2="17.95" stroke="#000" stroke-width="0.9"/>
<line x1="290.94" x2="290.94" y1="281.5" y2="278.7" stroke="#000" stroke-width="0.9"/>
<line x1="290.94" x2="290.94" y1="15.15" y2="17.95" stroke="#000" stroke-width="0.9"/>
<line x1="296.42" x2="296.42" y1="281.5" y2="276.5" stroke="#000" stroke-width="1.0"/>
<line x1="296.42" x2="296.42" y1="15.15" y2="20.15" stroke="#000" stroke-width="1.0"/>
<line x1="332.41" x2="332.41" y1="281.5" y2="278.7" stroke="#000" stroke-width="0.9"/>
<line x1="332.41" x2="332.41" y1="15.15" y2="17.95" stroke="#000" stroke-width="0.9"/>
<line x1="353.47" x2="353.47" y1="281.5" y2="278.7" stroke="#000" stroke-width="0.9"/>
<line x1="353.47" x2="353.47" y1="15.15" y2="17.95" stroke="#000" stroke-width="0.9"/>
<line x1="368.41" x2="368.41" y1="281.5" y2="278.7" stroke="#000" stroke-width="0.9"/>
<line x1="368.41" x2="368.41" y1="15.15" y2="17.95" stroke="#000" stroke-width="0.9"/>
<line x1="380.00" x2="380.00" y1="281.5" y2="278.7" stroke="#000" stroke-width="0.9"/>
<line x1="380.00" x2="380.00" y1="15.15" y2="17.95" stroke="#000" stroke-width="0.9"/>
<line x1="389.47" x2="389.47" y1="281.5" y2="278.7" stroke="#000" stroke-width="0.9"/>
<line x1="389.47" x2="389.47" y1="15.15" y2="17.95" stroke="#000" stroke-width="0.9"/>
<line x1="397.48" x2="397.48" y1="281.5" y2="278.7" stroke="#000" stroke-width="0.9"/>
<line x1="397.48" x2="397.48" y1="15.15" y2="17.95" stroke="#000" stroke-width="0.9"/>
<line x1="404.41" x2="404.41" y1="281.5" y2="278.7" stroke="#000" stroke-width="0.9"/>
<line x1="404.41" x2="404.41" y1="15.15" y2="17.95" stroke="#000" stroke-width="0.9"/>
<line x1="410.53" x2="410.53" y1="281.5" y2="278.7" stroke="#000" stroke-width="0.9"/>
<line x1="410.53" x2="410.53" y1="15.15" y2="17.95" stroke="#000" stroke-width="0.9"/>
<line x1="416.00" x2="416.00" y1="281.5" y2="276.5" stroke="#000" stroke-width="1.0"/>
<line x1="416.00" x2="416.00" y1="15.15" y2="20.15" stroke="#000" stroke-width="1.0"/>
<line y1="281.50" y2="281.50" x1="57.25" x2="62.25" stroke="#000" stroke-width="1.0"/>
<line y1="281.50" y2="281.50" x1="416.0" x2="411.0" stroke="#000" stroke-width="1.0"/>
<line y1="265.46" y2="265.46" x1="57.25" x2="60.05" stroke="#000" stroke-width="0.9"/>
<line y1="265.46" y2="265.46" x1="416.0" x2="413.2" stroke="#000" stroke-width="0.9"/>
<line y1="256.08" y2="256.08" x1="57.25" x2="60.05" stroke="#000" stroke-width="0.9"/>
<line y1="256.08" y2="256.08" x1="416.0" x2="413.2" stroke="#000" stroke-width="0.9"/>
<line y1="249.43" y2="249.43" x1="57.25" x2="60.05" stroke="#000" stroke-width="0.9"/>
<line y1="249.43" y2="249.43" x1="416.0" x2="413.2" stroke="#000" stroke-width="0.9"/>
<line y1="244.27" y2="244.27" x1="57.25" x2="60.05" stroke="#000" stroke-width="0.9"/>
<line y1="244.27" y2="244.27" x1="416.0" x2="413.2" stroke="#000" stroke-width="0.9"/>
<line y1="240.05" y2="240.05" x1="57.25" x2="60.05" stroke="#000" stroke-width="0.9"/>
<line y1="240.05" y2="240.05" x1="416.0" x2="413.2" stroke="#000" stroke-width="0.9"/>
<line y1="236.48" y2="236.48" x1="57.25" x2="60.05" stroke="#000" stroke-width="0.9"/>
<line y1="236.48" y2="236.48" x1="416.0" x2="413.2" stroke="#000" stroke-width="0.9"/>
<line y1="233.39" y2="233.39" x1="57.25" x2="60.05" stroke="#000" stroke-width="0.9"/>
<line y1="233.39" y2="233.39" x1="416.0" x2="413.2" stroke="#000" stroke-width="0.9"/>
<line y1="230.67" y2="230.67" x1="57.25" x2="60.05" stroke="#000" stroke-width="0.9"/>
<line y1="230.67" y2="230.67" x1="416.0" x2="413.2" stroke="#000" stroke-width="0.9"/>
<line y1="228.23" y2="228.23" x1="57.25" x2="62.25" stroke="#000" stroke-width="1.0"/>
<line y1="228.23" y2="228.23" x1="416.0" x2="411.0" stroke="#000" stroke-width="1.0"/>
<line y1="212.19" y2="212.19" x1="57.25" x2="60.05" stroke="#000" stroke-width="0.9"/>
<line y1="212.19" y2="212.19" x1="416.0" x2="413.2" stroke="#000" stroke-width="0.9"/>
<line y1="202.81" y2="202.81" x1="57.25" x2="60.05" stroke="#000" stroke-width="0.9"/>
<line y1="202.81" y2="202.81" x1="416.0" x2="413.2" stroke="#000" stroke-width="0.9"/>
<line y1="196.16" y2="196.16" x1="57.25" x2="60.05" stroke="#000" stroke-width="0.9"/>
<line y1="196.16" y2="196.16" x1="416.0" x2="413.2" stroke="#000" stroke-width="0.9"/>
<line y1="191.00" y2="191.00" x1="57.25" x2="60.05" stroke="#000" stroke-width="0.9"/>
<line y1="191.00" y2="191.00" x1="416.0" x2="413.2" stroke="#000" stroke-width="0.9"/>
<line y1="186.78" y2="186.78" x1="57.25" x2="60.05" stroke="#000" stroke-width="0.9"/>
<line y1="186.78" y2="186.78" x1="416.0" x2="413.2" stroke="#000" stroke-width="0.9"/>
<line y1="183.21" y2="183.21" x1="57.25" x2="60.05" stroke="#000" stroke-width="0.9"/>
<line y1="183.21" y2="183.21" x1="416.0" x2="413.2" stroke="#000" stroke-width="0.9"/>
<line y1="180.12" y2="180.12" x1="57.25" x2="60.05" stroke="#000" stroke-width="0.9"/>
<line y1="180.12" y2="180.12" x1="416.0" x2="413.2" stroke="#000" stroke-width="0.9"/>
<line y1="177.40" y2="177.40" x1="57.25" x2="60.05" stroke="#000" stroke-width="0.9"/>
<line y1="177.40" y2="177.40" x1="416.0" x2="413.2" stroke="#000" stroke-width="0.9"/>
<line y1="174.96" y2="174.96" x1="57.25" x2="62.25" stroke="#000" stroke-width="1.0"/>
<line y1="174.96" y2="174.96" x1="416.0" x2="411.0" stroke="#000" stroke-width="1.0"/>
<line y1="158.92" y2="158.92" x1="57.25" x2="60.05" stroke="#000" stroke-width="0.9"/>
<line y1="158.92" y2="158.92" x1="416.0" x2="413.2" stroke="#000" stroke-width="0.9"/>
<line y1="149.54" y2="149.54" x1="57.25" x2="60.05" stroke="#000" stroke-width="0.9"/>
<line y1="149.54" y2="149.54" x1="416.0" x2="413.2" stroke="#000" stroke-width="0.9"/>
<line y1="142.89" y2="142.89" x1="57.25" x2="60.05" stroke="#000" stroke-width="0.9"/>
<line y1="142.89" y2="142.89" x1="416.0" x2="413.2" stroke="#000" stroke-width="0.9"/>
<line y1="137.73" y2="137.73" x1="57.25" x2="60.05" stroke="#000" stroke-width="0.9"/>
<line y1="137.73" y2="137.73" x1="416.0" x2="413.2" stroke="#000" stroke-width="0.9"/>
<line y1="133.51" y2="133.51" x1="57.25" x2="60.05" stroke="#000" stroke-width="0.9"/>
<line y1="133.51" y2="133.51" x1="416.0" x2="413.2" stroke="#000" stroke-width="0.9"/>
<line y1="129.94" y2="129.94" x1="57.25" x2="60.05" stroke="#000" stroke-width="0.9"/>
<line y1="129.94" y2="129.94" x1="416.0" x2="413.2" stroke="#000" stroke-width="0.9"/>
<line y1="126.85" y2="126.85" x1="57.25" x2="60.05" stroke="#000" stroke-width="0.9"/>
<line y1="126.85" y2="126.85" x1="416.0" x2="413.2" stroke="#000" stroke-width="0.9"/>
<line y1="124.13" y2="124.13" x1="57.25" x2="60.05" stroke="#000" stroke-width="0.9"/>
<line y1="124.13" y2="124.13" x1="416.0" x2="413.2" stroke="#000" stroke-width="0.9"/>
<line y1="121.69" y2="121.69" x1="57.25" x2="62.25" stroke="#000" stroke-width="1.0"/>
<line y1="121.69" y2="121.69" x1="416.0" x2="411.0" stroke="#000" stroke-width="1.0"/>
<line y1="105.65" y2="105.65" x1="57.25" x2="60.05" stroke="#000" stroke-width="0.9"/>
<line y1="105.65" y2="105.65" x1="416.0" x2="413.2" stroke="#000" stroke-width="0.9"/>
<line y1="96.27" y2="96.27" x1="57.25" x2="60.05" stroke="#000" stroke-width="0.9"/>
<line y1="96.27" y2="96.27" x1="416.0" x2="413.2" stroke="#000" stroke-width="0.9"/>
<line y1="89.62" y2="89.62" x1="57.25" x2="60.05" stroke="#000" stroke-width="0.9"/>
<line y1="89.62" y2="89.62" x1="416.0" x2="413.2" stroke="#000" stroke-width="0.9"/>
<line y1="84.46" y2="84.46" x1="57.25" x2="60.05" stroke="#000" stroke-width="0.9"/>
<line y1="84.46" y2="84.46" x1="416.0" x2="413.2" stroke="#000" stroke-width="0.9"/>
<line y1="80.24" y2="80.24" x1="57.25" x2="60.05" stroke="#000" stroke-width="0.9"/>
<line y1="80.24" y2="80.24" x1="416.0" x2="413.2" stroke="#000" stroke-width="0.9"/>
<line y1="76.67" y2="76.67" x1="57.25" x2="60.05" stroke="#000" stroke-width="0.9"/>
<line y1="76.67" y2="76.67" x1="416.0" x2="413.2" stroke="#000" stroke-width="0.9"/>
<line y1="73.58" y2="73.58" x1="57.25" x2="60.05" stroke="#000" stroke-width="0.9"/>
<line y1="73.58" y2="73.58" x1="416.0" x2="413.2" stroke="#000" stroke-width="0.9"/>
<line y1="70.86" y2="70.86" x1="57.25" x2="60.05" stroke="#000" stroke-width="0.9"/>
<line y1="70.86" y2="70.86" x1="416.0" x2="413.2" stroke="#000" stroke-width="0.9"/>
<line y1="68.42" y2="68.42" x1="57.25" x2="62.25" stroke="#000" stroke-width="1.0"/>
<line y1="68.42" y2="68.42" x1="416.0" x2="411.0" stroke="#000" stroke-width="1.0"/>
<line y1="52.38" y2="52.38" x1="57.25" x2="60.05" stroke="#000" stroke-width="0.9"/>
<line y1="52.38" y2="52.38" x1="416.0" x2="413.2" stroke="#000" stroke-width="0.9"/>
<line y1="43.00" y2="43.00" x1="57.25" x2="60.05" stroke="#000" stroke-width="0.9"/>
<line y1="43.00" y2="43.00" x1="416.0" x2="413.2" stroke="#000" stroke-width="0.9"/>
<line y1="36.35" y2="36.35" x1="57.25" x2="60.05" stroke="#000" stroke-width="0.9"/>
<line y1="36.35" y2="36.35" x1="416.0" x2="413.2" stroke="#000" stroke-width="0.9"/>
<line y1="31.19" y2="31.19" x1="57.25" x2="60.05" stroke="#000" stroke-width="0.9"/>
<line y1="31.19" y2="31.19" x1="416.0" x2="413.2" stroke="#000" stroke-width="0.9"/>
<line y1="26.97" y2="26.97" x1="57.25" x2="60.05" stroke="#000" stroke-width="0.9"/>
<line y1="26.97" y2="26.97" x1="416.0" x2="413.2" stroke="#000" stroke-width="0.9"/>
<line y1="23.40" y2="23.40" x1="57.25" x2="60.05" stroke="#000" stroke-width="0.9"/>
<line y1="23.40" y2="23.40" x1="416.0" x2="413.2" stroke="#000" stroke-width="0.9"/>
<line y1="20.31" y2="20.31" x1="57.25" x2="60.05" stroke="#000" stroke-width="0.9"/>
<line y1="20.31" y2="20.31" x1="416.0" x2="413.2" stroke="#000" stroke-width="0.9"/>
<line y1="17.59" y2="17.59" x1="57.25" x2="60.05" stroke="#000" stroke-width="0.9"/>
<line y1="17.59" y2="17.59" x1="416.0" x2="413.2" stroke="#000" stroke-width="0.9"/>
<line y1="15.15" y2="15.15" x1="57.25" x2="62.25" stroke="#000" stroke-width="1.0"/>
<line y1="15.15" y2="15.15" x1="416.0" x2="411.0" stroke="#000" stroke-width="1.0"/>
<rect x="57.25" y="15.15" width="358.75" height="266.35" fill="none" stroke="#000" stroke-width="1.4"/>
<rect x="62.7" y="185.4" width="213.5" height="90" rx="2.6" ry="2.6" fill="#fff" fill-opacity="0.8" stroke="#d4d4d4" stroke-width="1.1"/>
<line x1="67.3" x2="90.5" y1="213.4" y2="213.4" stroke="#9acd32" stroke-opacity="0.85" stroke-width="3.3" stroke-linecap="square"/>
<line x1="66.8" x2="91.2" y1="231.0" y2="231.0" stroke="#dc143c" stroke-opacity="0.88" stroke-width="1.4"/>
<line x1="67" x2="91.2" y1="247.9" y2="247.9" stroke="#daa520" stroke-opacity="0.8" stroke-width="1.4" stroke-dasharray="4.4,1.7"/>
<line x1="67" x2="91.2" y1="265.2" y2="265.2" stroke="#1010e0" stroke-opacity="0.78" stroke-width="1.5" stroke-dasharray="7.3,1.85,1.15,1.85"/>
<g opacity="0.999">
<text transform="translate(43.90,295.90) scale(1.206,1)" font-size="12.2">10</text>
<text transform="translate(58.91,292.40) scale(1.226,1)" font-size="8.9">−</text>
<text transform="translate(65.13,292.40) scale(1.076,1)" font-size="8.9">1</text>
<text transform="translate(166.53,295.90) scale(1.206,1)" font-size="12.2">10</text>
<text transform="translate(181.60,292.70) scale(1.211,1)" font-size="8.9">0</text>
<text transform="translate(286.32,295.90) scale(1.206,1)" font-size="12.2">10</text>
<text transform="translate(300.95,292.70) scale(1.076,1)" font-size="8.9">1</text>
<text transform="translate(405.50,295.90) scale(1.206,1)" font-size="12.2">10</text>
<text transform="translate(420.54,292.70) scale(1.139,1)" font-size="8.9">2</text>
<text transform="translate(47.62,282.00) scale(1.154,1)" font-size="8.9">4</text>
<text transform="translate(40.76,282.00) scale(1.226,1)" font-size="8.9">−</text>
<text transform="translate(25.73,285.50) scale(1.224,1)" font-size="12.2">10</text>
<text transform="translate(47.34,228.73) scale(1.156,1)" font-size="8.9">3</text>
<text transform="translate(40.76,228.73) scale(1.226,1)" font-size="8.9">−</text>
<text transform="translate(25.73,232.23) scale(1.224,1)" font-size="12.2">10</text>
<text transform="translate(47.36,175.46) scale(1.222,1)" font-size="8.9">2</text>
<text transform="translate(40.76,175.46) scale(1.226,1)" font-size="8.9">−</text>
<text transform="translate(25.73,178.96) scale(1.224,1)" font-size="12.2">10</text>
<text transform="translate(46.98,122.19) scale(1.076,1)" font-size="8.9">1</text>
<text transform="translate(40.76,122.19) scale(1.226,1)" font-size="8.9">−</text>
<text transform="translate(25.73,125.69) scale(1.224,1)" font-size="12.2">10</text>
<text transform="translate(47.31,68.92) scale(1.211,1)" font-size="8.9">0</text>
<text transform="translate(31.92,72.42) scale(1.233,1)" font-size="12.2">10</text>
<text transform="translate(46.98,15.65) scale(1.076,1)" font-size="8.9">1</text>
<text transform="translate(32.02,19.15) scale(1.233,1)" font-size="12.2">10</text>
<text transform="translate(185.14,312.20) scale(1.182,1)" font-size="14.0" style="stroke-width:0.22px">Frequency (Hz)</text>
<text transform="translate(20.00,217.82) rotate(-90) scale(1.188,1)" font-size="14.0" style="stroke-width:0.22px">Isolation ratio (m/m)</text>
<text transform="translate(83.18,198.50) scale(1.167,1)" font-size="12.2">Masses:</text>
<text transform="translate(132.59,198.50) scale(1.112,1)" font-size="12.2" class="i">m</text>
<text transform="translate(144.00,200.80) scale(0.934,1)" font-size="8.4" class="s">1</text>
<text transform="translate(150.00,198.50) scale(1.224,1)" font-size="12.2">=</text>
<text transform="translate(157.75,198.50) scale(1.202,1)" font-size="12.2">1</text>
<text transform="translate(168.37,198.50) scale(1.217,1)" font-size="12.2">kg,</text>
<text transform="translate(190.39,198.50) scale(1.112,1)" font-size="12.2" class="i">m</text>
<text transform="translate(201.18,200.80) scale(1.057,1)" font-size="8.4" class="s">2</text>
<text transform="translate(205.75,198.50) scale(1.661,1)" font-size="12.2">=</text>
<text transform="translate(220.36,198.50) scale(1.167,1)" font-size="12.2">0.5</text>
<text transform="translate(242.29,198.50) scale(1.117,1)" font-size="12.2">kg</text>
<text transform="translate(99.36,216.00) scale(1.145,1)" font-size="12.2" class="i">f</text>
<text transform="translate(102.98,218.30) scale(0.962,1)" font-size="8.4" class="s">1</text>
<text transform="translate(109.19,216.00) scale(1.242,1)" font-size="12.2">=</text>
<text transform="translate(117.59,216.00) scale(1.164,1)" font-size="12.2">1.0</text>
<text transform="translate(139.08,216.00) scale(1.164,1)" font-size="12.2">Hz,</text>
<text transform="translate(162.48,216.00) scale(1.152,1)" font-size="12.2">no</text>
<text transform="translate(181.24,216.00) scale(1.210,1)" font-size="12.2">dampers</text>
<text transform="translate(235.28,216.00) scale(0.845,1)" font-size="12.2">(</text>
<text transform="translate(238.47,216.00) scale(1.137,1)" font-size="12.2" class="i">c</text>
<text transform="translate(248.09,216.00) scale(1.410,1)" font-size="12.2" class="s">=</text>
<text transform="translate(259.99,216.00) scale(1.068,1)" font-size="12.2">0</text>
<text transform="translate(266.49,216.00) scale(1.080,1)" font-size="12.2">)</text>
<text transform="translate(99.36,233.80) scale(1.145,1)" font-size="12.2" class="i">f</text>
<text transform="translate(102.98,236.10) scale(0.962,1)" font-size="8.4" class="s">1</text>
<text transform="translate(109.19,233.80) scale(1.242,1)" font-size="12.2">=</text>
<text transform="translate(117.59,233.80) scale(1.164,1)" font-size="12.2">1.0</text>
<text transform="translate(139.08,233.80) scale(1.164,1)" font-size="12.2">Hz,</text>
<text transform="translate(162.73,233.80) scale(0.962,1)" font-size="12.2" class="i">c</text>
<text transform="translate(171.22,233.80) scale(1.361,1)" font-size="12.2" class="s">=</text>
<text transform="translate(182.90,233.80) scale(0.799,1)" font-size="12.2" class="i">π</text>
<text transform="translate(190.73,233.80) scale(0.892,1)" font-size="12.2" class="i">,</text>
<text transform="translate(196.94,233.80) scale(1.216,1)" font-size="12.2" class="i">f</text>
<text transform="translate(202.54,236.10) scale(0.902,1)" font-size="8.4" class="s">2</text>
<text transform="translate(206.17,233.80) scale(1.451,1)" font-size="12.2">=</text>
<text transform="translate(216.07,233.80) scale(1.105,1)" font-size="12.2">3.0</text>
<text transform="translate(238.30,233.80) scale(1.068,1)" font-size="12.2">Hz</text>
<text transform="translate(99.36,250.60) scale(1.145,1)" font-size="12.2" class="i">f</text>
<text transform="translate(102.98,252.90) scale(0.962,1)" font-size="8.4" class="s">1</text>
<text transform="translate(109.19,250.60) scale(1.242,1)" font-size="12.2">=</text>
<text transform="translate(117.59,250.60) scale(1.164,1)" font-size="12.2">1.0</text>
<text transform="translate(139.08,250.60) scale(1.164,1)" font-size="12.2">Hz,</text>
<text transform="translate(162.73,250.60) scale(0.962,1)" font-size="12.2" class="i">c</text>
<text transform="translate(171.22,250.60) scale(1.361,1)" font-size="12.2" class="s">=</text>
<text transform="translate(182.90,250.60) scale(0.799,1)" font-size="12.2" class="i">π</text>
<text transform="translate(190.73,250.60) scale(0.892,1)" font-size="12.2" class="i">,</text>
<text transform="translate(196.94,250.60) scale(1.216,1)" font-size="12.2" class="i">f</text>
<text transform="translate(202.54,252.90) scale(0.902,1)" font-size="8.4" class="s">2</text>
<text transform="translate(220.72,250.60) scale(0.985,1)" font-size="12.2" class="s">∞</text>
<text transform="translate(99.36,267.30) scale(1.145,1)" font-size="12.2" class="i">f</text>
<text transform="translate(102.98,269.60) scale(0.962,1)" font-size="8.4" class="s">1</text>
<text transform="translate(109.19,267.30) scale(1.242,1)" font-size="12.2">=</text>
<text transform="translate(117.59,267.30) scale(1.164,1)" font-size="12.2">1.0</text>
<text transform="translate(139.08,267.30) scale(1.164,1)" font-size="12.2">Hz,</text>
<text transform="translate(162.73,267.30) scale(0.962,1)" font-size="12.2" class="i">c</text>
<text transform="translate(171.22,267.30) scale(1.361,1)" font-size="12.2" class="s">=</text>
<text transform="translate(182.90,267.30) scale(0.799,1)" font-size="12.2" class="i">π</text>
<text transform="translate(190.73,267.30) scale(0.892,1)" font-size="12.2" class="i">,</text>
<text transform="translate(196.94,267.30) scale(1.216,1)" font-size="12.2" class="i">f</text>
<text transform="translate(202.54,269.60) scale(0.902,1)" font-size="8.4" class="s">2</text>
<text transform="translate(220.46,267.30) scale(1.145,1)" font-size="12.2" class="i">f</text>
<text transform="translate(225.02,269.60) scale(0.907,1)" font-size="8.4" class="s">1</text>
</g>
<path d="M209.2,247.6 H217.20000000000002 M214.9,245.1 L217.5,247.6 L214.9,250.1" fill="none" stroke="#000" stroke-width="0.95" stroke-linejoin="miter"/>
<path d="M209.2,264.3 H217.20000000000002 M214.9,261.8 L217.5,264.3 L214.9,266.8" fill="none" stroke="#000" stroke-width="0.95" stroke-linejoin="miter"/>
</svg></body></html>
